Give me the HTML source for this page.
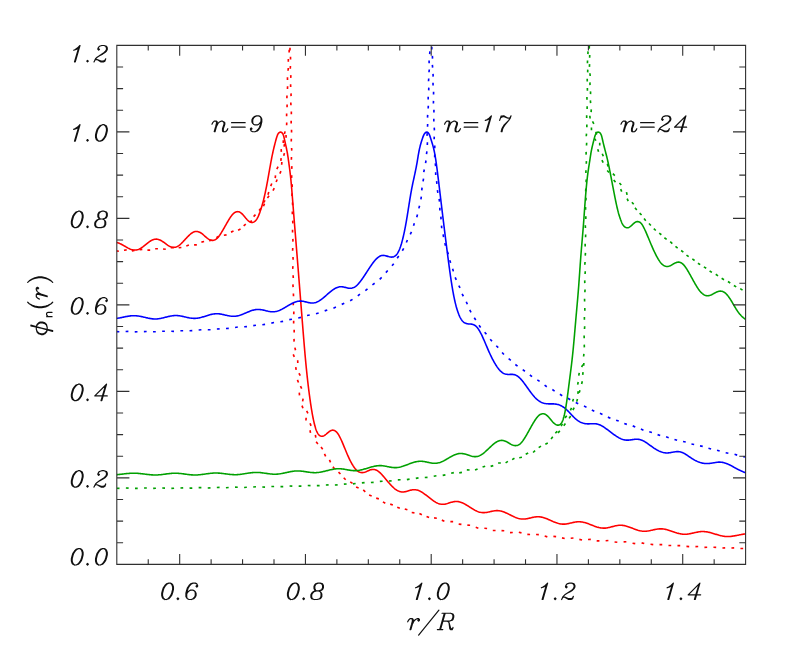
<!DOCTYPE html>
<html><head><meta charset="utf-8"><title>phi_n(r)</title>
<style>html,body{margin:0;padding:0;background:#fff;font-family:"Liberation Sans",sans-serif;}
svg{display:block}</style></head>
<body><svg width="789" height="657" viewBox="0 0 789 657">
<rect width="789" height="657" fill="#fff"/>
<defs><clipPath id="cp"><rect x="116.80" y="45.40" width="628.80" height="519.00"/></clipPath></defs>
<g clip-path="url(#cp)" fill="none" stroke-linejoin="round">
<path d="M95.00 250.50L95.69 250.09L96.38 249.67L97.06 249.25L97.74 248.84L98.42 248.42L99.10 248.00L99.78 247.59L100.47 247.18L101.15 246.77L101.85 246.37L102.54 245.97L103.25 245.59L103.95 245.21L104.67 244.85L105.39 244.50L106.12 244.16L106.86 243.84L107.60 243.54L108.35 243.26L109.11 243.01L109.88 242.79L110.66 242.60L111.44 242.45L112.23 242.34L113.02 242.26L113.81 242.24L114.60 242.26L115.39 242.32L116.18 242.44L116.96 242.59L117.72 242.80L118.48 243.04L119.23 243.31L119.97 243.62L120.70 243.96L121.41 244.31L122.12 244.69L122.83 245.07L123.53 245.47L124.22 245.87L124.92 246.28L125.61 246.69L126.31 247.09L127.01 247.48L127.71 247.87L128.43 248.24L129.15 248.59L129.88 248.92L130.63 249.21L131.38 249.48L132.15 249.70L132.92 249.87L133.70 249.99L134.48 250.05L135.27 250.05L136.05 249.98L136.82 249.85L137.58 249.66L138.33 249.41L139.07 249.11L139.78 248.77L140.48 248.38L141.17 247.97L141.84 247.53L142.50 247.06L143.15 246.59L143.79 246.10L144.42 245.60L145.05 245.10L145.68 244.60L146.31 244.09L146.93 243.59L147.57 243.09L148.21 242.60L148.85 242.12L149.51 241.66L150.18 241.21L150.87 240.79L151.57 240.40L152.28 240.04L153.02 239.74L153.76 239.49L154.52 239.30L155.29 239.18L156.06 239.13L156.84 239.16L157.61 239.26L158.37 239.43L159.12 239.66L159.85 239.96L160.57 240.30L161.28 240.68L161.97 241.10L162.64 241.54L163.31 242.00L163.96 242.47L164.62 242.95L165.27 243.43L165.92 243.91L166.57 244.39L167.24 244.85L167.91 245.30L168.59 245.73L169.29 246.12L170.01 246.48L170.74 246.79L171.49 247.04L172.24 247.23L173.01 247.34L173.78 247.38L174.55 247.33L175.31 247.20L176.05 246.99L176.78 246.72L177.49 246.37L178.18 245.98L178.84 245.53L179.49 245.05L180.11 244.54L180.72 244.01L181.31 243.46L181.89 242.90L182.46 242.32L183.02 241.75L183.57 241.16L184.12 240.57L184.66 239.98L185.20 239.39L185.75 238.80L186.29 238.21L186.84 237.63L187.39 237.04L187.95 236.46L188.52 235.89L189.10 235.33L189.69 234.78L190.30 234.24L190.92 233.73L191.57 233.25L192.24 232.80L192.92 232.41L193.64 232.06L194.36 231.79L195.11 231.59L195.87 231.48L196.63 231.45L197.39 231.52L198.14 231.67L198.87 231.90L199.60 232.20L200.30 232.57L200.98 232.99L201.64 233.45L202.28 233.94L202.91 234.45L203.53 234.98L204.14 235.52L204.74 236.06L205.35 236.60L205.97 237.14L206.59 237.67L207.22 238.17L207.88 238.66L208.55 239.10L209.24 239.50L209.95 239.85L210.68 240.12L211.42 240.30L212.17 240.40L212.91 240.39L213.65 240.29L214.38 240.08L215.07 239.78L215.74 239.40L216.38 238.94L216.99 238.43L217.56 237.87L218.10 237.27L218.62 236.65L219.12 236.00L219.59 235.35L220.05 234.68L220.50 234.01L220.94 233.33L221.36 232.65L221.78 231.96L222.19 231.27L222.60 230.58L223.01 229.89L223.41 229.20L223.80 228.50L224.20 227.81L224.59 227.11L224.99 226.41L225.38 225.72L225.77 225.02L226.16 224.32L226.56 223.62L226.96 222.93L227.36 222.24L227.76 221.54L228.17 220.85L228.58 220.16L229.00 219.48L229.42 218.79L229.86 218.11L230.30 217.44L230.76 216.77L231.23 216.11L231.72 215.46L232.24 214.83L232.78 214.22L233.35 213.65L233.95 213.12L234.58 212.65L235.24 212.26L235.93 211.96L236.64 211.75L237.36 211.66L238.09 211.69L238.81 211.83L239.51 212.07L240.19 212.41L240.85 212.83L241.48 213.32L242.08 213.86L242.65 214.43L243.21 215.03L243.75 215.65L244.28 216.28L244.80 216.91L245.32 217.55L245.84 218.18L246.38 218.80L246.93 219.42L247.49 220.01L248.09 220.57L248.70 221.08L249.35 221.54L250.02 221.91L250.71 222.19L251.41 222.37L252.12 222.42L252.83 222.35L253.51 222.16L254.17 221.84L254.79 221.42L255.37 220.90L255.90 220.31L256.39 219.67L256.84 218.99L257.25 218.28L257.63 217.56L258.00 216.83L258.34 216.10L258.66 215.36L258.97 214.62L259.27 213.87L259.56 213.12L259.85 212.37L260.12 211.61L260.38 210.86L260.64 210.10L260.89 209.34L261.14 208.58L261.38 207.82L261.61 207.05L261.84 206.28L262.06 205.52L262.28 204.75L262.50 203.98L262.71 203.20L262.92 202.43L263.12 201.66L263.32 200.88L263.52 200.11L263.71 199.33L263.90 198.55L264.08 197.78L264.27 197.00L264.45 196.22L264.63 195.44L264.80 194.66L264.98 193.88L265.15 193.10L265.32 192.31L265.48 191.53L265.65 190.75L265.81 189.96L265.97 189.18L266.13 188.40L266.28 187.61L266.44 186.83L266.59 186.04L266.74 185.26L266.89 184.47L267.04 183.68L267.18 182.90L267.33 182.11L267.47 181.32L267.62 180.54L267.76 179.75L267.90 178.96L268.04 178.17L268.18 177.39L268.32 176.60L268.46 175.81L268.60 175.02L268.74 174.24L268.88 173.45L269.02 172.66L269.16 171.87L269.30 171.09L269.44 170.30L269.58 169.51L269.72 168.72L269.86 167.93L270.00 167.15L270.14 166.36L270.28 165.57L270.42 164.78L270.57 164.00L270.71 163.21L270.86 162.42L271.00 161.64L271.15 160.85L271.30 160.06L271.45 159.28L271.60 158.49L271.75 157.71L271.91 156.92L272.06 156.14L272.22 155.35L272.39 154.57L272.55 153.79L272.72 153.01L272.89 152.22L273.06 151.44L273.24 150.66L273.42 149.88L273.60 149.10L273.78 148.33L273.97 147.55L274.16 146.77L274.35 145.99L274.55 145.22L274.74 144.44L274.94 143.67L275.14 142.89L275.35 142.12L275.55 141.35L275.76 140.57L275.97 139.80L276.18 139.03L276.40 138.25L276.63 137.48L276.88 136.71L277.14 135.94L277.44 135.17L277.78 134.42L278.18 133.71L278.66 133.08L279.21 132.57L279.83 132.23L280.49 132.11L281.14 132.22L281.75 132.55L282.29 133.06L282.75 133.70L283.12 134.42L283.41 135.19L283.66 135.97L283.87 136.76L284.06 137.55L284.24 138.34L284.41 139.12L284.58 139.91L284.75 140.69L284.92 141.47L285.10 142.25L285.27 143.03L285.44 143.82L285.62 144.60L285.80 145.38L285.97 146.16L286.14 146.94L286.31 147.72L286.48 148.50L286.64 149.29L286.80 150.07L286.95 150.85L287.10 151.64L287.25 152.43L287.38 153.22L287.52 154.00L287.65 154.79L287.77 155.58L287.89 156.37L288.01 157.17L288.13 157.96L288.24 158.75L288.35 159.54L288.46 160.33L288.57 161.13L288.68 161.92L288.79 162.71L288.90 163.50L289.01 164.30L289.12 165.09L289.23 165.88L289.33 166.67L289.44 167.47L289.55 168.26L289.65 169.05L289.76 169.85L289.86 170.64L289.96 171.43L290.05 172.23L290.15 173.02L290.24 173.82L290.34 174.61L290.43 175.41L290.51 176.20L290.60 177.00L290.69 177.79L290.77 178.59L290.85 179.38L290.93 180.18L291.00 180.98L291.08 181.77L291.15 182.57L291.23 183.37L291.30 184.16L291.37 184.96L291.44 185.76L291.51 186.55L291.58 187.35L291.65 188.15L291.72 188.94L291.78 189.74L291.85 190.54L291.91 191.34L291.98 192.13L292.04 192.93L292.11 193.73L292.17 194.53L292.24 195.32L292.30 196.12L292.36 196.92L292.43 197.72L292.49 198.51L292.55 199.31L292.62 200.11L292.68 200.91L292.74 201.70L292.80 202.50L292.87 203.30L292.93 204.10L292.99 204.89L293.05 205.69L293.11 206.49L293.18 207.29L293.24 208.08L293.30 208.88L293.37 209.68L293.43 210.48L293.49 211.27L293.55 212.07L293.62 212.87L293.68 213.67L293.74 214.46L293.81 215.26L293.87 216.06L293.94 216.86L294.00 217.65L294.06 218.45L294.13 219.25L294.19 220.05L294.25 220.84L294.32 221.64L294.38 222.44L294.45 223.24L294.51 224.03L294.57 224.83L294.64 225.63L294.70 226.43L294.77 227.22L294.83 228.02L294.90 228.82L294.96 229.62L295.03 230.41L295.09 231.21L295.15 232.01L295.22 232.80L295.28 233.60L295.35 234.40L295.41 235.20L295.48 235.99L295.54 236.79L295.61 237.59L295.67 238.39L295.74 239.18L295.80 239.98L295.87 240.78L295.93 241.58L296.00 242.37L296.06 243.17L296.13 243.97L296.19 244.77L296.26 245.56L296.32 246.36L296.39 247.16L296.45 247.95L296.52 248.75L296.58 249.55L296.65 250.35L296.71 251.14L296.77 251.94L296.84 252.74L296.90 253.54L296.97 254.33L297.03 255.13L297.10 255.93L297.16 256.73L297.23 257.52L297.29 258.32L297.36 259.12L297.42 259.92L297.48 260.71L297.55 261.51L297.61 262.31L297.68 263.11L297.74 263.90L297.81 264.70L297.87 265.50L297.93 266.29L298.00 267.09L298.06 267.89L298.13 268.69L298.19 269.48L298.25 270.28L298.32 271.08L298.38 271.88L298.45 272.67L298.51 273.47L298.57 274.27L298.64 275.07L298.70 275.86L298.76 276.66L298.83 277.46L298.89 278.26L298.95 279.05L299.02 279.85L299.08 280.65L299.14 281.45L299.21 282.24L299.27 283.04L299.33 283.84L299.40 284.64L299.46 285.43L299.52 286.23L299.59 287.03L299.65 287.83L299.71 288.62L299.78 289.42L299.84 290.22L299.90 291.02L299.97 291.81L300.03 292.61L300.09 293.41L300.16 294.21L300.22 295.00L300.28 295.80L300.35 296.60L300.41 297.40L300.47 298.19L300.54 298.99L300.60 299.79L300.66 300.59L300.73 301.38L300.79 302.18L300.85 302.98L300.91 303.78L300.98 304.57L301.04 305.37L301.10 306.17L301.17 306.97L301.23 307.76L301.29 308.56L301.36 309.36L301.42 310.16L301.48 310.95L301.55 311.75L301.61 312.55L301.67 313.35L301.74 314.14L301.80 314.94L301.86 315.74L301.93 316.54L301.99 317.33L302.05 318.13L302.11 318.93L302.18 319.73L302.24 320.52L302.30 321.32L302.37 322.12L302.43 322.92L302.50 323.71L302.56 324.51L302.62 325.31L302.69 326.11L302.75 326.90L302.81 327.70L302.88 328.50L302.94 329.30L303.01 330.09L303.07 330.89L303.13 331.69L303.20 332.49L303.26 333.28L303.33 334.08L303.39 334.88L303.46 335.68L303.52 336.47L303.59 337.27L303.65 338.07L303.72 338.86L303.78 339.66L303.85 340.46L303.91 341.26L303.98 342.05L304.05 342.85L304.11 343.65L304.18 344.45L304.25 345.24L304.31 346.04L304.38 346.84L304.45 347.63L304.52 348.43L304.59 349.23L304.65 350.03L304.72 350.82L304.79 351.62L304.86 352.42L304.93 353.21L305.00 354.01L305.07 354.81L305.14 355.60L305.22 356.40L305.29 357.20L305.36 357.99L305.43 358.79L305.51 359.59L305.58 360.38L305.65 361.18L305.73 361.98L305.80 362.77L305.88 363.57L305.96 364.37L306.03 365.16L306.11 365.96L306.19 366.76L306.27 367.55L306.35 368.35L306.43 369.14L306.51 369.94L306.59 370.74L306.67 371.53L306.75 372.33L306.84 373.12L306.92 373.92L307.00 374.71L307.09 375.51L307.17 376.30L307.26 377.10L307.35 377.89L307.44 378.69L307.52 379.49L307.61 380.28L307.70 381.08L307.79 381.87L307.89 382.66L307.98 383.46L308.07 384.25L308.17 385.05L308.26 385.84L308.36 386.64L308.45 387.43L308.55 388.23L308.65 389.02L308.75 389.81L308.85 390.61L308.95 391.40L309.05 392.19L309.15 392.99L309.26 393.78L309.36 394.57L309.47 395.37L309.57 396.16L309.68 396.95L309.79 397.74L309.90 398.54L310.01 399.33L310.12 400.12L310.23 400.91L310.35 401.71L310.46 402.50L310.58 403.29L310.70 404.08L310.82 404.87L310.94 405.66L311.06 406.45L311.18 407.24L311.31 408.03L311.43 408.82L311.56 409.61L311.69 410.40L311.83 411.19L311.96 411.98L312.10 412.77L312.24 413.56L312.38 414.34L312.52 415.13L312.67 415.92L312.82 416.70L312.97 417.49L313.13 418.27L313.29 419.06L313.46 419.84L313.62 420.62L313.80 421.40L313.98 422.18L314.16 422.96L314.35 423.74L314.55 424.52L314.75 425.29L314.96 426.07L315.18 426.84L315.40 427.62L315.64 428.39L315.90 429.16L316.16 429.93L316.45 430.69L316.76 431.45L317.10 432.20L317.47 432.92L317.89 433.61L318.35 434.26L318.86 434.84L319.41 435.35L320.02 435.75L320.66 436.04L321.34 436.21L322.03 436.24L322.74 436.15L323.44 435.95L324.14 435.63L324.81 435.23L325.47 434.76L326.11 434.24L326.74 433.69L327.36 433.13L327.98 432.57L328.61 432.03L329.25 431.52L329.92 431.07L330.60 430.69L331.29 430.41L332.00 430.22L332.71 430.16L333.42 430.21L334.12 430.39L334.79 430.68L335.43 431.07L336.03 431.55L336.60 432.10L337.12 432.70L337.62 433.34L338.08 434.01L338.52 434.70L338.94 435.41L339.33 436.12L339.71 436.83L340.08 437.55L340.44 438.27L340.79 439.00L341.13 439.73L341.46 440.46L341.78 441.19L342.11 441.92L342.42 442.66L342.74 443.40L343.05 444.13L343.35 444.87L343.66 445.61L343.96 446.35L344.27 447.09L344.57 447.83L344.87 448.57L345.18 449.31L345.48 450.05L345.78 450.79L346.09 451.53L346.40 452.27L346.71 453.01L347.02 453.74L347.34 454.48L347.66 455.21L347.98 455.94L348.31 456.67L348.64 457.40L348.98 458.13L349.32 458.85L349.67 459.57L350.03 460.29L350.39 461.00L350.75 461.71L351.13 462.42L351.52 463.12L351.91 463.82L352.32 464.52L352.73 465.20L353.16 465.88L353.61 466.55L354.07 467.22L354.55 467.86L355.04 468.50L355.57 469.11L356.11 469.71L356.69 470.26L357.29 470.78L357.93 471.26L358.59 471.67L359.29 472.02L360.01 472.29L360.75 472.48L361.50 472.59L362.27 472.61L363.04 472.56L363.81 472.42L364.58 472.23L365.34 471.98L366.10 471.69L366.85 471.37L367.59 471.04L368.34 470.71L369.09 470.39L369.84 470.10L370.60 469.85L371.37 469.65L372.14 469.51L372.91 469.45L373.68 469.46L374.44 469.55L375.19 469.72L375.93 469.97L376.64 470.28L377.33 470.66L378.00 471.09L378.64 471.56L379.27 472.07L379.87 472.61L380.46 473.16L381.03 473.73L381.58 474.32L382.13 474.91L382.66 475.51L383.19 476.11L383.71 476.72L384.23 477.34L384.75 477.95L385.26 478.56L385.77 479.18L386.28 479.80L386.79 480.41L387.31 481.02L387.83 481.64L388.35 482.24L388.87 482.85L389.40 483.45L389.94 484.04L390.48 484.63L391.03 485.22L391.58 485.80L392.15 486.37L392.72 486.92L393.31 487.47L393.91 488.01L394.52 488.53L395.15 489.03L395.80 489.51L396.46 489.96L397.14 490.38L397.84 490.76L398.55 491.09L399.29 491.38L400.04 491.62L400.80 491.79L401.58 491.91L402.36 491.96L403.15 491.96L403.94 491.90L404.72 491.79L405.51 491.64L406.29 491.45L407.07 491.24L407.84 491.02L408.62 490.78L409.39 490.55L410.17 490.33L410.95 490.13L411.73 489.96L412.51 489.83L413.30 489.74L414.09 489.70L414.87 489.72L415.66 489.79L416.44 489.91L417.20 490.09L417.96 490.31L418.71 490.58L419.44 490.89L420.16 491.24L420.87 491.62L421.57 492.02L422.25 492.44L422.92 492.88L423.58 493.33L424.24 493.80L424.88 494.27L425.52 494.75L426.16 495.24L426.79 495.73L427.42 496.23L428.05 496.72L428.68 497.22L429.31 497.72L429.94 498.21L430.57 498.70L431.21 499.19L431.85 499.67L432.50 500.15L433.15 500.61L433.81 501.06L434.48 501.50L435.17 501.92L435.86 502.33L436.57 502.71L437.29 503.05L438.02 503.37L438.76 503.65L439.52 503.89L440.29 504.07L441.06 504.21L441.85 504.30L442.64 504.33L443.42 504.31L444.21 504.24L445.00 504.13L445.78 503.98L446.56 503.79L447.34 503.58L448.11 503.35L448.87 503.10L449.64 502.85L450.41 502.61L451.18 502.37L451.95 502.14L452.73 501.94L453.51 501.77L454.29 501.64L455.08 501.54L455.87 501.49L456.66 501.49L457.45 501.54L458.23 501.63L459.01 501.77L459.78 501.96L460.55 502.18L461.30 502.44L462.04 502.74L462.78 503.06L463.50 503.40L464.21 503.77L464.92 504.15L465.62 504.54L466.31 504.95L467.00 505.36L467.68 505.78L468.36 506.20L469.04 506.63L469.71 507.06L470.39 507.49L471.07 507.92L471.75 508.35L472.43 508.76L473.12 509.18L473.81 509.58L474.51 509.97L475.22 510.35L475.93 510.71L476.65 511.06L477.39 511.37L478.13 511.66L478.89 511.92L479.65 512.15L480.42 512.33L481.20 512.48L481.99 512.58L482.78 512.64L483.57 512.66L484.37 512.64L485.16 512.58L485.95 512.49L486.75 512.37L487.53 512.23L488.32 512.08L489.11 511.91L489.89 511.73L490.67 511.55L491.46 511.38L492.24 511.21L493.03 511.06L493.82 510.92L494.61 510.81L495.40 510.72L496.20 510.66L496.99 510.64L497.79 510.66L498.58 510.72L499.37 510.81L500.15 510.94L500.93 511.10L501.70 511.30L502.47 511.52L503.23 511.78L503.98 512.05L504.73 512.34L505.46 512.65L506.20 512.98L506.93 513.31L507.65 513.66L508.37 514.01L509.09 514.36L509.81 514.72L510.52 515.07L511.24 515.43L511.96 515.78L512.68 516.13L513.41 516.47L514.14 516.81L514.87 517.13L515.61 517.43L516.36 517.72L517.11 517.99L517.87 518.24L518.64 518.46L519.41 518.65L520.19 518.81L520.98 518.93L521.77 519.01L522.56 519.06L523.36 519.07L524.15 519.04L524.95 518.98L525.74 518.89L526.53 518.77L527.32 518.63L528.10 518.47L528.89 518.30L529.67 518.12L530.45 517.93L531.23 517.74L532.01 517.56L532.79 517.38L533.58 517.22L534.37 517.08L535.16 516.95L535.95 516.86L536.74 516.79L537.54 516.75L538.33 516.75L539.13 516.79L539.92 516.86L540.71 516.97L541.49 517.11L542.27 517.28L543.04 517.48L543.81 517.70L544.57 517.95L545.33 518.22L546.08 518.50L546.82 518.79L547.56 519.10L548.30 519.41L549.03 519.73L549.77 520.06L550.50 520.38L551.23 520.71L551.96 521.04L552.69 521.36L553.43 521.68L554.17 521.98L554.91 522.28L555.66 522.57L556.41 522.84L557.17 523.10L557.94 523.33L558.71 523.54L559.48 523.73L560.27 523.88L561.05 524.00L561.84 524.09L562.64 524.14L563.43 524.16L564.23 524.14L565.02 524.09L565.82 524.01L566.61 523.90L567.40 523.77L568.18 523.62L568.97 523.46L569.75 523.28L570.53 523.09L571.31 522.91L572.09 522.72L572.87 522.54L573.66 522.37L574.44 522.21L575.23 522.07L576.02 521.95L576.81 521.86L577.61 521.79L578.40 521.76L579.20 521.75L579.99 521.78L580.78 521.85L581.58 521.94L582.36 522.07L583.15 522.22L583.93 522.40L584.70 522.60L585.47 522.82L586.23 523.06L586.99 523.31L587.75 523.57L588.50 523.85L589.25 524.13L590.00 524.42L590.75 524.71L591.49 525.00L592.24 525.29L592.99 525.58L593.73 525.87L594.48 526.15L595.24 526.42L596.00 526.68L596.76 526.93L597.52 527.16L598.29 527.37L599.07 527.57L599.85 527.74L600.64 527.88L601.42 528.00L602.22 528.08L603.01 528.13L603.81 528.15L604.60 528.14L605.40 528.09L606.19 528.01L606.98 527.90L607.77 527.76L608.55 527.60L609.33 527.43L610.11 527.24L610.89 527.04L611.66 526.83L612.44 526.62L613.21 526.41L613.99 526.21L614.77 526.02L615.55 525.84L616.33 525.67L617.12 525.53L617.91 525.42L618.70 525.33L619.49 525.28L620.29 525.25L621.08 525.26L621.88 525.31L622.67 525.39L623.46 525.50L624.24 525.64L625.03 525.80L625.80 526.00L626.57 526.21L627.34 526.44L628.10 526.69L628.86 526.94L629.61 527.21L630.37 527.49L631.12 527.77L631.86 528.06L632.61 528.35L633.36 528.63L634.11 528.92L634.86 529.20L635.61 529.47L636.37 529.73L637.13 529.98L637.90 530.22L638.67 530.44L639.44 530.64L640.22 530.81L641.00 530.96L641.79 531.09L642.58 531.18L643.38 531.24L644.17 531.27L644.97 531.26L645.76 531.23L646.56 531.16L647.35 531.07L648.14 530.96L648.93 530.83L649.72 530.68L650.50 530.52L651.29 530.35L652.07 530.17L652.85 529.99L653.63 529.82L654.42 529.64L655.20 529.48L655.99 529.33L656.78 529.19L657.57 529.07L658.36 528.97L659.15 528.90L659.95 528.86L660.75 528.84L661.54 528.86L662.34 528.91L663.13 528.98L663.92 529.08L664.71 529.21L665.49 529.37L666.27 529.55L667.05 529.74L667.82 529.95L668.59 530.18L669.35 530.42L670.12 530.66L670.88 530.91L671.63 531.17L672.39 531.43L673.15 531.70L673.91 531.96L674.67 532.21L675.43 532.47L676.19 532.71L676.95 532.95L677.72 533.17L678.49 533.38L679.27 533.58L680.05 533.75L680.83 533.90L681.62 534.03L682.41 534.13L683.21 534.21L684.00 534.25L684.80 534.27L685.60 534.25L686.39 534.21L687.19 534.14L687.98 534.05L688.77 533.94L689.56 533.80L690.35 533.65L691.13 533.49L691.91 533.32L692.70 533.14L693.48 532.96L694.26 532.78L695.04 532.60L695.82 532.42L696.60 532.26L697.39 532.10L698.18 531.96L698.97 531.83L699.76 531.72L700.55 531.64L701.35 531.58L702.14 531.54L702.94 531.54L703.74 531.56L704.53 531.61L705.33 531.68L706.12 531.78L706.91 531.90L707.70 532.04L708.48 532.20L709.26 532.38L710.04 532.57L710.81 532.78L711.58 532.99L712.35 533.21L713.12 533.44L713.89 533.67L714.65 533.91L715.42 534.15L716.18 534.38L716.95 534.61L717.72 534.84L718.49 535.06L719.26 535.28L720.03 535.48L720.81 535.67L721.59 535.85L722.37 536.01L723.16 536.15L723.95 536.27L724.74 536.37L725.53 536.45L726.33 536.50L727.13 536.53L727.93 536.54L728.72 536.52L729.52 536.48L730.32 536.43L731.11 536.35L731.91 536.26L732.70 536.15L733.49 536.03L734.28 535.90L735.07 535.76L735.86 535.61L736.64 535.46L737.43 535.31L738.22 535.15L739.00 534.99L739.79 534.84L740.57 534.69L741.36 534.54L742.15 534.40L742.94 534.27L743.73 534.15L744.52 534.04L745.31 533.94L746.11 533.86L746.91 533.79L747.70 533.74L748.50 533.71L749.30 533.69L750.10 533.69L750.90 533.71L751.70 533.74L752.50 533.80L753.29 533.87L754.09 533.96L754.88 534.07L755.67 534.19L756.46 534.33L757.24 534.49L758.03 534.66L758.80 534.85L759.58 535.05L760.35 535.28L761.11 535.52L761.87 535.77L762.62 536.04L763.36 536.33L764.10 536.63L764.83 536.94L765.56 537.27L766.28 537.62L767.00 537.98L767.71 538.35" stroke="#ff0000" stroke-width="1.58"/>
<path d="M116.13 250.93L118.87 251.21M123.95 250.23L126.68 249.90M131.82 251.01L134.49 250.38M139.58 249.69L142.31 249.39M147.42 250.15L150.17 250.06M155.18 248.70L157.93 248.78M163.05 249.00L165.79 249.30M170.77 247.66L173.52 247.63M178.66 247.80L181.39 247.50M186.30 245.95L188.91 245.08M194.09 244.87L196.84 244.82M201.40 242.11L204.10 241.56M209.15 240.63L211.88 240.28M216.43 237.72L218.74 236.23M223.86 235.30L226.57 234.84M231.00 232.12L233.53 231.04M238.08 230.16L240.55 228.94M243.66 225.97L245.77 224.20M249.59 222.28L251.88 220.76M253.61 216.68L255.49 214.67M259.06 210.44L260.92 208.42M263.56 202.63L265.12 200.37M267.93 194.72L268.79 192.10M270.72 186.08L271.77 183.54M275.24 178.12L275.51 175.39M276.82 169.15L278.09 166.71M280.82 160.95L281.17 158.22M281.39 151.85L281.10 149.12M283.27 143.01L283.31 140.26M284.39 134.05L285.11 131.40M286.64 125.27L286.72 122.53M286.62 116.23L286.64 113.48M287.05 107.19L287.11 104.45M286.89 98.15L286.97 95.40M287.47 89.03L287.59 86.28M287.51 79.90L287.45 77.15M288.03 70.78L288.28 68.04M288.32 61.65L288.33 58.90M289.13 52.55L289.20 49.81M289.13 43.41L289.35 40.67M263.45 206.21L264.52 203.67M267.43 197.93L269.08 195.73M273.01 190.62L274.25 188.16M276.13 182.01L277.16 179.46M279.85 173.63L280.97 171.12M281.69 164.68L281.83 161.94M283.71 155.76L284.41 153.11M284.07 146.63L284.53 143.91M286.11 137.66L286.01 134.91" stroke="#ff0000" stroke-width="1.65" stroke-linecap="butt"/>
<path d="M290.00 47.73L289.98 50.48M290.49 56.85L290.55 59.60M290.42 65.98L290.28 68.73M290.72 75.11L290.89 77.85M290.60 84.24L290.66 86.99M291.01 93.36L291.07 96.11M290.80 102.46L290.94 105.21M291.34 111.55L291.34 114.30M291.15 120.65L291.15 123.40M291.51 129.74L291.57 132.49M291.33 138.83L291.26 141.58M291.59 147.93L291.76 150.67M291.47 157.02L291.37 159.77M291.75 166.11L291.90 168.86M291.72 175.21L291.57 177.96M292.18 184.29L292.17 187.04M292.08 193.39L291.99 196.14M292.45 202.48L292.68 205.22M292.36 211.57L292.37 214.32M292.71 220.67L292.86 223.41M292.53 229.76L292.56 232.51M292.87 238.85L292.98 241.60M292.74 247.95L292.60 250.69M293.00 257.04L293.12 259.79M292.79 266.13L292.83 268.88M293.12 275.23L293.28 277.97M292.89 284.33L293.11 287.07M293.40 293.41L293.51 296.16M293.31 302.51L293.25 305.26M293.81 311.59L293.78 314.34M293.67 320.69L293.65 323.44M294.16 329.78L294.18 332.53M294.01 338.88L294.11 341.63M294.88 347.64L295.53 350.31M293.21 354.43L294.31 356.95M297.71 360.21L297.78 362.96M295.72 367.06L296.18 369.77M298.91 373.25L300.30 375.62M297.41 379.92L298.48 382.46M300.47 386.11L301.71 388.57M299.28 392.69L299.50 395.43M303.12 398.68L302.59 401.38M301.99 405.65L302.95 408.22M306.65 410.90L307.92 413.34M306.14 417.74L305.94 420.49M310.08 423.26L311.02 425.85M309.99 430.26L310.51 432.96M315.40 434.83L315.78 437.55M316.14 441.80L317.89 443.93M321.01 447.08L322.71 449.24M324.47 453.94L325.67 456.41M329.46 459.85L330.54 462.38M332.96 466.75L334.61 468.95M338.51 472.08L340.47 474.01M343.73 477.75L345.66 479.72M350.23 481.83L352.53 483.35M356.10 486.90L358.61 488.02M363.25 489.95L365.30 491.78M369.10 495.08L371.66 496.09M376.22 498.10L378.86 498.85M382.91 501.85L385.30 503.21M390.24 504.12L392.84 505.02M397.26 507.31L399.81 508.34M404.78 509.00L407.40 509.82M411.72 512.52L414.45 512.86M419.42 513.55L421.86 514.83M426.55 516.49L429.08 517.57M434.10 517.89L436.83 518.24M441.83 520.12L444.38 521.15M450.38 521.57L453.13 521.62M458.69 524.07L461.43 524.39M467.35 525.07L470.09 525.25M475.74 527.31L478.34 528.20M484.36 528.20L487.10 528.47M492.80 530.54L495.55 530.48M501.51 530.58L504.25 530.79M510.02 532.57L512.77 532.46M518.82 532.21L521.49 532.86M527.33 534.35L530.08 534.50M536.08 534.55L538.83 534.57M544.70 536.00L547.32 536.84M553.40 536.31L556.13 536.58M562.01 537.85L564.68 538.51M570.72 538.23L573.46 537.99M579.34 539.40L582.03 540.01M588.05 539.47L590.80 539.43M596.68 540.83L599.43 540.93M605.65 540.78L608.39 540.48M614.57 542.02L617.31 542.26M623.61 541.92L626.36 541.79M632.54 543.19L635.25 543.68M641.61 542.83L644.26 543.56M650.51 544.24L653.24 544.58M659.50 544.68L662.25 544.64M668.47 545.47L671.22 545.54M677.47 545.68L680.22 545.69M686.45 546.44L689.19 546.58M695.45 546.61L698.20 546.54M704.43 547.33L707.18 547.25M713.44 547.28L716.19 547.37M722.42 548.03L725.17 547.93M731.43 548.00L734.18 547.88M740.42 548.46L743.17 548.49" stroke="#ff0000" stroke-width="1.65" stroke-linecap="butt"/>
<path d="M96.00 316.00L96.73 316.32L97.48 316.63L98.23 316.92L98.98 317.18L99.74 317.43L100.50 317.66L101.27 317.87L102.04 318.06L102.83 318.23L103.61 318.38L104.40 318.52L105.19 318.63L105.99 318.73L106.78 318.80L107.58 318.86L108.38 318.90L109.18 318.93L109.98 318.94L110.78 318.93L111.58 318.91L112.38 318.87L113.17 318.82L113.97 318.75L114.77 318.66L115.56 318.57L116.35 318.46L117.14 318.34L117.93 318.21L118.72 318.07L119.51 317.92L120.29 317.77L121.08 317.61L121.86 317.45L122.65 317.28L123.43 317.12L124.21 316.96L125.00 316.80L125.78 316.64L126.57 316.49L127.36 316.35L128.15 316.22L128.94 316.10L129.73 315.99L130.52 315.89L131.32 315.82L132.12 315.76L132.91 315.72L133.71 315.70L134.51 315.70L135.31 315.72L136.11 315.77L136.90 315.84L137.69 315.93L138.49 316.04L139.28 316.16L140.06 316.30L140.85 316.46L141.63 316.62L142.41 316.79L143.19 316.97L143.97 317.16L144.75 317.34L145.53 317.53L146.31 317.71L147.09 317.89L147.87 318.07L148.66 318.23L149.44 318.38L150.23 318.53L151.02 318.65L151.81 318.76L152.61 318.85L153.40 318.91L154.20 318.95L155.00 318.97L155.79 318.96L156.59 318.93L157.39 318.87L158.18 318.78L158.97 318.68L159.76 318.55L160.55 318.41L161.33 318.25L162.12 318.08L162.90 317.90L163.67 317.71L164.45 317.52L165.23 317.32L166.00 317.13L166.78 316.93L167.56 316.74L168.34 316.55L169.12 316.37L169.90 316.20L170.69 316.05L171.47 315.91L172.26 315.79L173.06 315.69L173.85 315.62L174.65 315.57L175.44 315.54L176.24 315.54L177.04 315.57L177.83 315.62L178.63 315.70L179.42 315.80L180.21 315.92L181.00 316.06L181.79 316.21L182.57 316.37L183.35 316.54L184.13 316.72L184.91 316.90L185.69 317.08L186.47 317.27L187.26 317.44L188.04 317.61L188.82 317.77L189.61 317.92L190.40 318.05L191.19 318.16L191.99 318.25L192.78 318.32L193.58 318.36L194.37 318.37L195.17 318.36L195.97 318.32L196.76 318.25L197.55 318.15L198.34 318.02L199.13 317.87L199.91 317.70L200.68 317.52L201.46 317.31L202.23 317.10L203.00 316.87L203.76 316.64L204.53 316.40L205.29 316.15L206.06 315.91L206.82 315.67L207.58 315.43L208.35 315.19L209.12 314.97L209.89 314.76L210.67 314.55L211.44 314.37L212.23 314.21L213.01 314.06L213.80 313.94L214.59 313.85L215.39 313.79L216.18 313.75L216.98 313.75L217.78 313.77L218.57 313.82L219.36 313.90L220.16 314.01L220.95 314.13L221.73 314.28L222.52 314.44L223.30 314.61L224.08 314.78L224.87 314.96L225.65 315.15L226.43 315.33L227.21 315.50L227.99 315.67L228.78 315.82L229.57 315.96L230.36 316.08L231.15 316.17L231.95 316.24L232.74 316.28L233.54 316.30L234.34 316.27L235.13 316.22L235.92 316.13L236.71 316.01L237.49 315.86L238.27 315.68L239.04 315.47L239.81 315.24L240.57 314.99L241.32 314.73L242.07 314.45L242.82 314.16L243.56 313.86L244.30 313.55L245.04 313.24L245.78 312.93L246.52 312.62L247.26 312.30L247.99 311.99L248.74 311.69L249.48 311.40L250.23 311.11L250.98 310.84L251.74 310.59L252.51 310.35L253.28 310.13L254.05 309.94L254.83 309.78L255.62 309.65L256.41 309.55L257.20 309.49L258.00 309.46L258.79 309.47L259.58 309.51L260.38 309.59L261.17 309.69L261.96 309.82L262.74 309.97L263.53 310.14L264.31 310.32L265.09 310.51L265.87 310.71L266.65 310.90L267.43 311.08L268.21 311.26L269.00 311.41L269.79 311.55L270.58 311.66L271.37 311.74L272.17 311.79L272.96 311.80L273.75 311.77L274.55 311.70L275.33 311.59L276.11 311.44L276.88 311.25L277.65 311.02L278.40 310.77L279.15 310.48L279.89 310.17L280.62 309.84L281.34 309.49L282.05 309.13L282.76 308.75L283.46 308.36L284.16 307.97L284.85 307.57L285.54 307.16L286.23 306.75L286.92 306.34L287.61 305.93L288.30 305.52L288.99 305.12L289.68 304.72L290.38 304.32L291.08 303.94L291.79 303.57L292.51 303.21L293.24 302.87L293.97 302.54L294.71 302.24L295.46 301.97L296.22 301.72L296.99 301.52L297.76 301.34L298.55 301.21L299.33 301.13L300.12 301.09L300.91 301.09L301.71 301.14L302.50 301.22L303.29 301.34L304.07 301.50L304.86 301.67L305.64 301.86L306.42 302.06L307.20 302.26L307.98 302.45L308.77 302.62L309.55 302.77L310.34 302.89L311.14 302.98L311.93 303.01L312.72 303.00L313.50 302.94L314.28 302.82L315.05 302.65L315.81 302.43L316.55 302.16L317.28 301.85L318.00 301.50L318.70 301.12L319.39 300.71L320.06 300.27L320.72 299.81L321.37 299.34L322.01 298.86L322.64 298.36L323.27 297.86L323.88 297.35L324.50 296.83L325.10 296.31L325.71 295.79L326.32 295.26L326.92 294.73L327.52 294.21L328.13 293.68L328.74 293.16L329.35 292.64L329.96 292.13L330.58 291.62L331.21 291.12L331.84 290.63L332.49 290.15L333.14 289.68L333.81 289.23L334.49 288.80L335.18 288.40L335.89 288.03L336.61 287.70L337.35 287.40L338.10 287.16L338.86 286.97L339.63 286.83L340.41 286.76L341.20 286.74L341.98 286.78L342.77 286.87L343.56 287.01L344.34 287.18L345.13 287.37L345.91 287.58L346.70 287.78L347.48 287.96L348.27 288.12L349.06 288.23L349.84 288.29L350.62 288.29L351.40 288.22L352.16 288.07L352.90 287.86L353.62 287.57L354.32 287.23L355.00 286.82L355.65 286.37L356.27 285.87L356.88 285.34L357.45 284.78L358.01 284.20L358.56 283.61L359.08 283.00L359.60 282.38L360.10 281.75L360.59 281.11L361.07 280.47L361.55 279.83L362.01 279.18L362.47 278.52L362.93 277.86L363.38 277.20L363.83 276.54L364.28 275.87L364.72 275.21L365.16 274.54L365.59 273.87L366.03 273.20L366.47 272.53L366.90 271.85L367.34 271.18L367.77 270.51L368.21 269.84L368.64 269.17L369.08 268.50L369.52 267.83L369.97 267.17L370.42 266.50L370.87 265.84L371.32 265.18L371.78 264.53L372.25 263.88L372.72 263.23L373.20 262.59L373.69 261.95L374.19 261.32L374.70 260.70L375.23 260.09L375.77 259.49L376.32 258.91L376.90 258.34L377.50 257.81L378.12 257.30L378.77 256.84L379.44 256.43L380.14 256.07L380.86 255.79L381.59 255.58L382.35 255.45L383.12 255.40L383.89 255.43L384.67 255.53L385.45 255.69L386.23 255.89L387.01 256.13L387.79 256.37L388.57 256.61L389.35 256.82L390.13 256.98L390.91 257.08L391.68 257.11L392.44 257.05L393.17 256.89L393.88 256.65L394.56 256.31L395.20 255.89L395.80 255.40L396.35 254.84L396.86 254.24L397.33 253.59L397.77 252.91L398.17 252.21L398.55 251.49L398.89 250.76L399.22 250.03L399.53 249.28L399.83 248.53L400.11 247.78L400.38 247.02L400.63 246.26L400.88 245.50L401.12 244.73L401.36 243.97L401.58 243.20L401.80 242.43L402.01 241.66L402.22 240.88L402.43 240.11L402.62 239.34L402.82 238.56L403.01 237.78L403.19 237.00L403.38 236.22L403.55 235.45L403.73 234.66L403.90 233.88L404.07 233.10L404.24 232.32L404.40 231.54L404.56 230.75L404.72 229.97L404.88 229.18L405.03 228.40L405.18 227.61L405.33 226.83L405.48 226.04L405.63 225.25L405.77 224.47L405.91 223.68L406.05 222.89L406.19 222.10L406.33 221.32L406.46 220.53L406.60 219.74L406.73 218.95L406.86 218.16L406.99 217.37L407.12 216.58L407.25 215.79L407.38 215.00L407.51 214.21L407.63 213.42L407.76 212.63L407.89 211.84L408.01 211.05L408.14 210.26L408.26 209.47L408.38 208.68L408.51 207.89L408.63 207.10L408.76 206.31L408.88 205.52L409.01 204.73L409.13 203.94L409.26 203.15L409.38 202.36L409.51 201.57L409.64 200.78L409.76 199.99L409.89 199.20L410.02 198.41L410.15 197.62L410.28 196.83L410.41 196.04L410.55 195.26L410.68 194.47L410.82 193.68L410.95 192.89L411.09 192.10L411.23 191.32L411.38 190.53L411.52 189.74L411.67 188.96L411.82 188.17L411.97 187.38L412.13 186.60L412.29 185.81L412.45 185.03L412.61 184.25L412.77 183.46L412.93 182.68L413.10 181.90L413.27 181.12L413.44 180.33L413.61 179.55L413.78 178.77L413.95 177.99L414.12 177.21L414.29 176.43L414.46 175.64L414.63 174.86L414.80 174.08L414.96 173.30L415.13 172.52L415.29 171.73L415.46 170.95L415.62 170.17L415.78 169.38L415.93 168.60L416.09 167.81L416.24 167.03L416.39 166.24L416.54 165.46L416.69 164.67L416.83 163.88L416.97 163.09L417.11 162.31L417.24 161.52L417.38 160.73L417.51 159.94L417.64 159.15L417.77 158.36L417.89 157.57L418.02 156.78L418.15 155.99L418.28 155.20L418.42 154.41L418.56 153.63L418.70 152.84L418.84 152.05L419.00 151.27L419.15 150.48L419.32 149.70L419.49 148.92L419.66 148.14L419.85 147.36L420.04 146.58L420.23 145.81L420.43 145.03L420.64 144.26L420.86 143.49L421.08 142.72L421.30 141.95L421.53 141.19L421.77 140.42L422.02 139.66L422.27 138.90L422.53 138.14L422.80 137.38L423.08 136.62L423.39 135.86L423.72 135.11L424.09 134.37L424.51 133.67L425.00 133.04L425.56 132.54L426.17 132.22L426.81 132.13L427.44 132.27L428.01 132.64L428.52 133.19L428.96 133.85L429.33 134.58L429.65 135.35L429.94 136.12L430.21 136.89L430.46 137.66L430.71 138.42L430.95 139.19L431.19 139.95L431.43 140.72L431.66 141.49L431.89 142.25L432.12 143.02L432.35 143.79L432.57 144.55L432.79 145.32L433.00 146.09L433.21 146.87L433.41 147.64L433.61 148.42L433.80 149.19L433.98 149.97L434.15 150.75L434.32 151.53L434.48 152.32L434.64 153.10L434.79 153.89L434.93 154.68L435.07 155.46L435.20 156.25L435.33 157.04L435.46 157.83L435.59 158.62L435.71 159.41L435.83 160.20L435.94 161.00L436.06 161.79L436.17 162.58L436.28 163.37L436.39 164.16L436.50 164.96L436.61 165.75L436.72 166.54L436.82 167.33L436.93 168.13L437.03 168.92L437.13 169.71L437.23 170.51L437.34 171.30L437.44 172.10L437.54 172.89L437.64 173.68L437.74 174.48L437.84 175.27L437.94 176.06L438.04 176.86L438.13 177.65L438.23 178.45L438.33 179.24L438.43 180.03L438.53 180.83L438.62 181.62L438.72 182.42L438.82 183.21L438.91 184.00L439.01 184.80L439.10 185.59L439.20 186.39L439.30 187.18L439.39 187.98L439.49 188.77L439.58 189.56L439.68 190.36L439.77 191.15L439.87 191.95L439.96 192.74L440.06 193.54L440.15 194.33L440.25 195.12L440.34 195.92L440.44 196.71L440.53 197.51L440.63 198.30L440.72 199.10L440.82 199.89L440.91 200.68L441.01 201.48L441.10 202.27L441.20 203.07L441.29 203.86L441.39 204.66L441.48 205.45L441.58 206.24L441.67 207.04L441.77 207.83L441.87 208.63L441.96 209.42L442.06 210.22L442.15 211.01L442.25 211.80L442.35 212.60L442.44 213.39L442.54 214.19L442.64 214.98L442.73 215.78L442.83 216.57L442.93 217.36L443.02 218.16L443.12 218.95L443.22 219.75L443.32 220.54L443.41 221.33L443.51 222.13L443.61 222.92L443.71 223.72L443.80 224.51L443.90 225.30L444.00 226.10L444.10 226.89L444.20 227.69L444.29 228.48L444.39 229.27L444.49 230.07L444.59 230.86L444.69 231.66L444.79 232.45L444.89 233.24L444.99 234.04L445.09 234.83L445.18 235.62L445.28 236.42L445.38 237.21L445.48 238.01L445.58 238.80L445.68 239.59L445.78 240.39L445.88 241.18L445.98 241.97L446.08 242.77L446.18 243.56L446.28 244.36L446.38 245.15L446.49 245.94L446.59 246.74L446.69 247.53L446.79 248.32L446.89 249.12L446.99 249.91L447.09 250.70L447.19 251.50L447.30 252.29L447.40 253.08L447.50 253.88L447.60 254.67L447.70 255.46L447.81 256.26L447.91 257.05L448.01 257.84L448.12 258.64L448.22 259.43L448.32 260.22L448.43 261.02L448.53 261.81L448.64 262.60L448.74 263.40L448.85 264.19L448.96 264.98L449.06 265.78L449.17 266.57L449.28 267.36L449.39 268.15L449.49 268.95L449.60 269.74L449.71 270.53L449.82 271.32L449.93 272.12L450.04 272.91L450.16 273.70L450.27 274.49L450.38 275.28L450.50 276.08L450.61 276.87L450.73 277.66L450.84 278.45L450.96 279.24L451.08 280.03L451.20 280.82L451.32 281.62L451.44 282.41L451.57 283.20L451.69 283.99L451.82 284.78L451.94 285.57L452.07 286.36L452.20 287.15L452.33 287.94L452.46 288.72L452.60 289.51L452.73 290.30L452.87 291.09L453.01 291.88L453.16 292.66L453.30 293.45L453.45 294.24L453.60 295.02L453.75 295.81L453.91 296.59L454.07 297.38L454.23 298.16L454.39 298.94L454.56 299.72L454.74 300.51L454.91 301.29L455.09 302.07L455.27 302.84L455.46 303.62L455.66 304.40L455.85 305.17L456.06 305.95L456.26 306.72L456.48 307.49L456.70 308.26L456.93 309.03L457.16 309.79L457.40 310.56L457.65 311.32L457.91 312.08L458.18 312.83L458.46 313.58L458.75 314.33L459.05 315.08L459.37 315.81L459.70 316.55L460.05 317.27L460.43 317.99L460.82 318.69L461.24 319.37L461.70 320.03L462.18 320.67L462.70 321.26L463.26 321.81L463.86 322.30L464.50 322.73L465.18 323.09L465.89 323.38L466.63 323.60L467.40 323.75L468.19 323.86L468.98 323.93L469.78 323.99L470.58 324.05L471.37 324.14L472.15 324.27L472.90 324.47L473.63 324.73L474.32 325.06L474.98 325.45L475.60 325.92L476.19 326.43L476.74 327.00L477.27 327.60L477.76 328.23L478.23 328.88L478.68 329.55L479.11 330.23L479.52 330.92L479.92 331.62L480.31 332.33L480.69 333.04L481.05 333.75L481.41 334.47L481.76 335.19L482.11 335.91L482.45 336.64L482.78 337.36L483.11 338.09L483.43 338.82L483.76 339.56L484.08 340.29L484.39 341.03L484.71 341.76L485.02 342.50L485.34 343.23L485.65 343.97L485.96 344.71L486.27 345.44L486.58 346.18L486.89 346.92L487.21 347.65L487.52 348.39L487.84 349.12L488.16 349.86L488.48 350.59L488.80 351.32L489.13 352.05L489.46 352.78L489.79 353.51L490.13 354.23L490.47 354.96L490.81 355.68L491.16 356.40L491.51 357.12L491.87 357.83L492.23 358.55L492.60 359.26L492.97 359.97L493.35 360.67L493.74 361.37L494.13 362.07L494.53 362.77L494.93 363.46L495.34 364.14L495.76 364.82L496.19 365.50L496.63 366.17L497.08 366.84L497.54 367.49L498.01 368.14L498.50 368.78L499.00 369.41L499.53 370.02L500.07 370.62L500.63 371.19L501.21 371.73L501.82 372.24L502.46 372.71L503.13 373.13L503.82 373.49L504.53 373.80L505.27 374.04L506.03 374.21L506.81 374.33L507.60 374.40L508.40 374.42L509.20 374.42L510.01 374.40L510.82 374.38L511.62 374.38L512.42 374.41L513.21 374.48L513.98 374.61L514.74 374.80L515.47 375.05L516.19 375.36L516.88 375.72L517.55 376.14L518.19 376.61L518.80 377.11L519.40 377.65L519.97 378.21L520.53 378.79L521.07 379.38L521.60 379.99L522.12 380.61L522.62 381.23L523.12 381.86L523.61 382.49L524.09 383.13L524.57 383.77L525.05 384.42L525.52 385.07L525.99 385.72L526.45 386.37L526.92 387.02L527.38 387.67L527.85 388.32L528.31 388.97L528.78 389.63L529.24 390.28L529.71 390.92L530.18 391.57L530.66 392.21L531.14 392.86L531.62 393.49L532.12 394.12L532.61 394.75L533.12 395.37L533.64 395.98L534.17 396.58L534.71 397.18L535.26 397.76L535.83 398.32L536.41 398.87L537.01 399.40L537.62 399.91L538.25 400.40L538.90 400.87L539.57 401.30L540.26 401.71L540.96 402.09L541.68 402.43L542.41 402.73L543.16 403.00L543.92 403.23L544.69 403.42L545.47 403.57L546.26 403.69L547.06 403.77L547.85 403.82L548.65 403.85L549.46 403.86L550.26 403.86L551.06 403.86L551.87 403.86L552.67 403.87L553.47 403.89L554.27 403.93L555.07 404.00L555.86 404.11L556.64 404.24L557.42 404.41L558.19 404.61L558.94 404.86L559.69 405.13L560.42 405.44L561.14 405.79L561.85 406.16L562.54 406.57L563.21 407.00L563.87 407.45L564.51 407.93L565.13 408.42L565.75 408.94L566.35 409.47L566.93 410.01L567.51 410.57L568.08 411.13L568.64 411.71L569.19 412.29L569.74 412.87L570.29 413.45L570.84 414.04L571.38 414.63L571.93 415.21L572.48 415.79L573.04 416.37L573.60 416.94L574.17 417.50L574.75 418.05L575.35 418.59L575.95 419.12L576.57 419.62L577.20 420.11L577.85 420.58L578.51 421.03L579.19 421.45L579.88 421.84L580.59 422.20L581.32 422.53L582.06 422.83L582.81 423.09L583.57 423.31L584.35 423.49L585.13 423.64L585.92 423.74L586.71 423.81L587.51 423.85L588.31 423.87L589.11 423.86L589.91 423.83L590.72 423.80L591.52 423.76L592.32 423.73L593.13 423.72L593.93 423.72L594.72 423.75L595.52 423.81L596.31 423.90L597.09 424.04L597.86 424.22L598.62 424.44L599.37 424.70L600.10 425.00L600.83 425.33L601.54 425.69L602.23 426.08L602.92 426.50L603.59 426.93L604.26 427.37L604.92 427.83L605.57 428.30L606.22 428.77L606.86 429.25L607.50 429.73L608.14 430.21L608.78 430.70L609.41 431.18L610.05 431.67L610.69 432.16L611.33 432.64L611.97 433.12L612.61 433.60L613.25 434.07L613.90 434.54L614.56 435.00L615.22 435.46L615.88 435.90L616.55 436.34L617.23 436.76L617.92 437.18L618.61 437.58L619.32 437.96L620.03 438.32L620.76 438.65L621.50 438.96L622.24 439.24L623.00 439.49L623.76 439.70L624.54 439.88L625.32 440.01L626.11 440.10L626.90 440.15L627.69 440.16L628.49 440.13L629.29 440.07L630.08 439.99L630.88 439.88L631.68 439.76L632.47 439.64L633.27 439.52L634.06 439.41L634.86 439.32L635.66 439.25L636.45 439.21L637.25 439.22L638.04 439.26L638.82 439.35L639.60 439.49L640.37 439.68L641.12 439.91L641.87 440.19L642.60 440.50L643.31 440.85L644.02 441.23L644.71 441.64L645.39 442.06L646.06 442.50L646.72 442.95L647.38 443.41L648.03 443.88L648.68 444.35L649.33 444.82L649.98 445.29L650.63 445.76L651.28 446.23L651.93 446.69L652.59 447.15L653.25 447.60L653.91 448.05L654.58 448.48L655.26 448.91L655.95 449.33L656.64 449.73L657.34 450.12L658.05 450.49L658.76 450.85L659.49 451.19L660.22 451.50L660.97 451.80L661.72 452.06L662.49 452.29L663.26 452.49L664.03 452.66L664.82 452.79L665.61 452.87L666.40 452.92L667.19 452.93L667.99 452.90L668.78 452.84L669.58 452.74L670.37 452.63L671.16 452.49L671.95 452.34L672.74 452.19L673.54 452.04L674.33 451.91L675.12 451.79L675.92 451.70L676.71 451.64L677.50 451.62L678.29 451.64L679.08 451.71L679.86 451.83L680.63 452.00L681.39 452.21L682.14 452.48L682.87 452.78L683.59 453.12L684.30 453.49L684.99 453.89L685.68 454.30L686.36 454.74L687.03 455.18L687.69 455.63L688.35 456.08L689.02 456.54L689.68 456.99L690.34 457.44L691.01 457.89L691.68 458.32L692.35 458.75L693.04 459.17L693.73 459.57L694.42 459.96L695.13 460.34L695.84 460.70L696.56 461.05L697.29 461.38L698.03 461.69L698.77 461.98L699.53 462.26L700.29 462.51L701.05 462.73L701.83 462.94L702.60 463.11L703.39 463.26L704.18 463.38L704.97 463.47L705.76 463.53L706.56 463.56L707.36 463.57L708.16 463.54L708.95 463.48L709.75 463.41L710.54 463.31L711.33 463.20L712.13 463.07L712.92 462.94L713.71 462.80L714.50 462.66L715.29 462.53L716.08 462.41L716.88 462.31L717.67 462.22L718.47 462.16L719.27 462.13L720.06 462.13L720.86 462.17L721.65 462.24L722.44 462.35L723.22 462.50L723.99 462.68L724.76 462.89L725.52 463.13L726.27 463.41L727.01 463.70L727.75 464.02L728.48 464.35L729.20 464.70L729.92 465.05L730.63 465.42L731.34 465.80L732.04 466.18L732.75 466.56L733.45 466.94L734.15 467.33L734.85 467.71L735.56 468.09L736.26 468.47L736.97 468.85L737.68 469.22L738.39 469.58L739.11 469.94L739.83 470.29L740.55 470.63L741.27 470.97L742.01 471.30L742.74 471.61L743.48 471.91L744.23 472.20L744.98 472.48L745.73 472.74L746.50 472.98L747.26 473.21L748.03 473.42L748.81 473.61L749.59 473.78L750.38 473.94L751.16 474.07L751.96 474.18L752.75 474.27L753.55 474.34L754.34 474.40L755.14 474.43L755.94 474.44L756.75 474.43L757.54 474.40L758.34 474.34L759.14 474.26L759.93 474.16L760.71 474.04L761.50 473.90L762.28 473.74L763.06 473.55L763.84 473.35L764.61 473.12" stroke="#0000ff" stroke-width="1.58"/>
<path d="M116.58 331.61L119.32 331.71M125.63 331.45L128.38 331.39M134.76 331.88L137.50 331.73M143.89 331.59L146.64 331.51M153.02 331.76L155.77 331.72M162.15 331.21L164.90 331.24M171.29 331.26L174.03 331.35M180.40 330.74L183.15 330.72M189.54 330.71L192.29 330.61M198.65 330.04L201.39 329.78M207.78 329.74L210.53 329.80M216.88 328.95L219.63 328.84M226.01 328.51L228.76 328.43M235.09 327.52L237.80 327.06M244.19 326.78L246.94 326.68M253.25 325.63L255.97 325.25M262.34 324.72L265.06 324.33M271.33 323.07L274.03 322.56M280.38 321.79L283.10 321.42M289.26 319.67L291.97 319.19M298.24 317.96L300.94 317.43M307.05 315.53L309.75 315.02M316.00 313.71L318.65 312.96M324.69 310.87L327.27 309.92M333.43 308.19L335.93 307.05M341.74 304.38L344.28 303.33M350.16 300.81L352.52 299.40M357.82 295.84L359.94 294.08M365.37 290.69L367.49 288.94M372.43 284.89L374.65 283.27M379.70 279.34L381.67 277.42M385.90 272.63L387.70 270.56M392.02 265.85L393.72 263.69M397.19 258.32L398.72 256.04M402.33 250.76L403.70 248.38M406.35 242.56L407.38 240.01M410.27 234.31L411.46 231.83M413.53 225.78L414.34 223.15M416.76 217.23L417.49 214.58M418.85 208.34L419.56 205.68M420.90 199.44L421.34 196.72M421.78 190.34L422.04 187.61M423.06 181.30L423.53 178.59M423.75 172.18L424.31 169.49M425.55 163.21L426.03 160.51M426.49 154.13L426.91 151.42M427.33 145.04L427.40 142.29M427.16 135.90L427.06 133.15M427.54 126.78L427.65 124.03M427.51 117.64L427.67 114.89M428.19 108.53L428.31 105.78M428.19 99.39L428.20 96.64M428.69 90.35L428.80 87.60M428.49 81.29L428.74 78.55M428.99 72.25L429.29 69.51M429.15 63.20L429.08 60.45M429.69 54.17L429.90 51.42M429.75 45.11L430.00 42.37" stroke="#0000ff" stroke-width="1.65" stroke-linecap="butt"/>
<path d="M431.79 46.87L431.80 49.62M432.36 55.86L432.56 58.60M432.36 64.87L432.64 67.60M433.02 73.85L433.17 76.59M433.01 82.85L433.07 85.60M433.58 91.84L433.56 94.59M433.50 100.85L433.39 103.59M433.94 109.77L433.92 112.52M433.80 118.71L433.84 121.46M434.23 127.64L434.42 130.38M434.27 136.58L434.12 139.32M434.75 145.50L434.74 148.25M434.74 154.44L434.67 157.19M435.26 163.36L435.62 166.09M435.68 172.28L435.71 175.03M436.61 181.17L436.92 183.90M437.42 190.07L437.85 192.79M439.12 198.85L439.53 201.57M439.81 207.77L439.89 210.51M440.88 216.64L441.05 219.38M441.50 225.56L441.73 228.30M443.12 234.34L443.56 237.05M444.81 243.12L445.53 245.77M447.45 251.65L448.34 254.26M449.73 260.30L450.66 262.89M452.64 268.75L453.37 271.40M455.15 277.34L456.26 279.85M458.79 285.51L460.05 287.95M462.09 293.82L463.37 296.25M466.26 301.73L467.33 304.26M469.73 309.98L471.00 312.42M474.25 317.68L475.75 319.99M479.01 325.25L480.63 327.47M484.67 332.16L486.41 334.28M490.21 339.17L492.00 341.26M496.30 345.72L498.23 347.68M502.12 352.50L503.92 354.58M508.64 358.61L510.82 360.29M515.34 364.52L517.55 366.16M522.73 369.56L524.91 371.23M529.85 374.97L532.07 376.59M537.32 379.87L539.61 381.39M544.58 385.09L546.80 386.72M552.35 389.50L554.61 391.06M559.87 394.33L562.24 395.73M567.89 398.28L570.25 399.69M575.75 402.54L578.23 403.73M583.95 406.10L586.49 407.15M591.82 410.00L594.31 411.16M599.97 413.28L602.46 414.45M607.88 417.12L610.41 418.21M616.11 420.18L618.71 421.09M624.28 423.43L626.86 424.36M632.73 425.88L635.26 426.96M640.92 429.05L643.44 430.16M649.27 431.76L651.93 432.45M657.58 434.62L660.18 435.52M666.08 436.83L668.69 437.69M674.48 439.42L677.09 440.29M683.02 441.46L685.72 441.99M691.44 443.98L694.15 444.45M700.03 445.82L702.72 446.41M708.45 448.33L711.10 449.07M717.04 450.19L719.67 451.00M725.68 452.75L728.38 453.28M734.56 454.31L737.19 455.10M743.25 456.71L745.98 457.04" stroke="#0000ff" stroke-width="1.65" stroke-linecap="butt"/>
<path d="M96.00 473.30L96.77 473.53L97.54 473.74L98.32 473.94L99.10 474.12L99.88 474.28L100.66 474.43L101.45 474.56L102.24 474.68L103.03 474.78L103.83 474.87L104.62 474.94L105.42 475.00L106.22 475.04L107.02 475.08L107.82 475.10L108.62 475.11L109.42 475.11L110.22 475.10L111.02 475.09L111.82 475.06L112.62 475.02L113.42 474.97L114.22 474.92L115.01 474.86L115.81 474.79L116.61 474.72L117.40 474.64L118.20 474.55L119.00 474.47L119.79 474.38L120.58 474.29L121.38 474.19L122.17 474.10L122.97 474.01L123.76 473.91L124.56 473.82L125.35 473.73L126.15 473.65L126.95 473.57L127.74 473.50L128.54 473.43L129.34 473.37L130.14 473.31L130.93 473.27L131.73 473.23L132.53 473.21L133.33 473.20L134.13 473.20L134.93 473.21L135.73 473.23L136.53 473.26L137.33 473.31L138.12 473.37L138.92 473.43L139.72 473.51L140.51 473.59L141.31 473.68L142.10 473.77L142.90 473.87L143.69 473.97L144.49 474.08L145.28 474.18L146.07 474.28L146.87 474.38L147.66 474.48L148.46 474.57L149.25 474.65L150.05 474.73L150.84 474.80L151.64 474.86L152.44 474.91L153.24 474.95L154.04 474.97L154.84 474.98L155.64 474.98L156.44 474.96L157.23 474.93L158.03 474.89L158.83 474.83L159.63 474.77L160.42 474.69L161.22 474.61L162.01 474.51L162.81 474.42L163.60 474.31L164.40 474.21L165.19 474.10L165.98 474.00L166.78 473.89L167.57 473.79L168.36 473.69L169.16 473.60L169.95 473.51L170.75 473.44L171.55 473.37L172.34 473.31L173.14 473.27L173.94 473.24L174.74 473.22L175.54 473.22L176.34 473.23L177.14 473.26L177.94 473.30L178.73 473.36L179.53 473.43L180.33 473.50L181.12 473.59L181.92 473.68L182.71 473.78L183.51 473.88L184.30 473.99L185.09 474.10L185.88 474.21L186.68 474.31L187.47 474.42L188.27 474.52L189.06 474.61L189.86 474.70L190.65 474.77L191.45 474.84L192.25 474.89L193.04 474.94L193.84 474.96L194.64 474.98L195.44 474.98L196.24 474.96L197.04 474.93L197.84 474.89L198.64 474.83L199.43 474.76L200.23 474.68L201.02 474.59L201.82 474.50L202.61 474.39L203.40 474.29L204.20 474.18L204.99 474.06L205.78 473.95L206.57 473.84L207.37 473.73L208.16 473.62L208.95 473.52L209.75 473.42L210.54 473.33L211.34 473.25L212.14 473.18L212.93 473.12L213.73 473.07L214.53 473.04L215.33 473.02L216.13 473.02L216.93 473.03L217.73 473.06L218.52 473.10L219.32 473.15L220.12 473.22L220.92 473.29L221.71 473.38L222.51 473.47L223.30 473.57L224.09 473.67L224.89 473.77L225.68 473.88L226.47 473.98L227.27 474.09L228.06 474.19L228.86 474.28L229.65 474.37L230.45 474.45L231.25 474.52L232.04 474.58L232.84 474.63L233.64 474.66L234.44 474.68L235.24 474.68L236.04 474.67L236.83 474.64L237.63 474.59L238.43 474.54L239.23 474.46L240.02 474.38L240.82 474.28L241.61 474.18L242.40 474.07L243.19 473.95L243.98 473.83L244.77 473.70L245.56 473.57L246.35 473.44L247.15 473.32L247.94 473.19L248.73 473.07L249.52 472.96L250.31 472.85L251.11 472.75L251.90 472.66L252.70 472.59L253.49 472.52L254.29 472.48L255.09 472.44L255.89 472.43L256.69 472.42L257.49 472.44L258.29 472.47L259.08 472.52L259.88 472.58L260.68 472.66L261.47 472.75L262.27 472.84L263.06 472.94L263.85 473.05L264.65 473.17L265.44 473.28L266.23 473.40L267.02 473.51L267.81 473.62L268.61 473.73L269.40 473.83L270.20 473.92L270.99 474.00L271.79 474.07L272.59 474.13L273.39 474.17L274.18 474.19L274.98 474.20L275.78 474.18L276.58 474.15L277.38 474.10L278.17 474.03L278.97 473.94L279.76 473.84L280.55 473.72L281.34 473.59L282.13 473.44L282.91 473.29L283.70 473.13L284.48 472.97L285.26 472.80L286.05 472.63L286.83 472.46L287.61 472.29L288.39 472.12L289.18 471.96L289.96 471.80L290.75 471.65L291.54 471.51L292.32 471.38L293.12 471.26L293.91 471.16L294.70 471.08L295.50 471.01L296.30 470.96L297.09 470.94L297.89 470.93L298.69 470.94L299.49 470.98L300.29 471.03L301.08 471.10L301.88 471.18L302.67 471.28L303.47 471.38L304.26 471.50L305.05 471.62L305.84 471.74L306.63 471.87L307.42 471.99L308.22 472.11L309.01 472.23L309.80 472.33L310.60 472.43L311.39 472.51L312.19 472.58L312.98 472.63L313.78 472.66L314.58 472.68L315.38 472.67L316.18 472.64L316.97 472.58L317.77 472.51L318.56 472.42L319.35 472.31L320.14 472.18L320.93 472.04L321.72 471.89L322.50 471.72L323.28 471.55L324.06 471.37L324.84 471.18L325.62 470.99L326.39 470.80L327.17 470.61L327.95 470.41L328.73 470.22L329.50 470.03L330.28 469.85L331.06 469.68L331.85 469.51L332.63 469.36L333.42 469.22L334.21 469.09L335.00 468.98L335.80 468.88L336.59 468.81L337.39 468.76L338.18 468.73L338.98 468.72L339.78 468.74L340.58 468.78L341.37 468.84L342.17 468.93L342.96 469.03L343.75 469.14L344.54 469.27L345.33 469.41L346.12 469.56L346.91 469.70L347.70 469.85L348.48 469.99L349.27 470.13L350.06 470.26L350.85 470.37L351.65 470.47L352.44 470.55L353.24 470.61L354.04 470.65L354.83 470.66L355.63 470.65L356.43 470.61L357.22 470.55L358.02 470.46L358.81 470.35L359.60 470.21L360.38 470.06L361.16 469.89L361.94 469.71L362.72 469.52L363.49 469.31L364.26 469.10L365.03 468.88L365.80 468.65L366.57 468.42L367.33 468.19L368.10 467.96L368.87 467.72L369.63 467.50L370.40 467.27L371.17 467.06L371.95 466.85L372.72 466.65L373.50 466.46L374.28 466.28L375.07 466.12L375.85 465.98L376.64 465.86L377.43 465.76L378.23 465.69L379.03 465.64L379.82 465.62L380.62 465.63L381.42 465.66L382.21 465.72L383.00 465.80L383.80 465.91L384.59 466.03L385.37 466.17L386.16 466.33L386.95 466.49L387.73 466.65L388.52 466.82L389.30 466.98L390.09 467.13L390.88 467.27L391.67 467.39L392.46 467.50L393.25 467.58L394.05 467.63L394.85 467.65L395.64 467.64L396.44 467.61L397.23 467.54L398.02 467.44L398.81 467.31L399.59 467.15L400.37 466.97L401.14 466.77L401.91 466.55L402.68 466.32L403.44 466.07L404.20 465.81L404.95 465.54L405.70 465.26L406.45 464.98L407.20 464.69L407.95 464.41L408.70 464.12L409.45 463.84L410.20 463.55L410.95 463.28L411.70 463.01L412.46 462.75L413.22 462.51L413.99 462.28L414.76 462.06L415.54 461.87L416.32 461.70L417.10 461.55L417.89 461.43L418.68 461.34L419.48 461.28L420.27 461.25L421.07 461.26L421.86 461.29L422.66 461.36L423.45 461.45L424.24 461.57L425.03 461.70L425.82 461.86L426.60 462.02L427.39 462.19L428.17 462.36L428.96 462.53L429.74 462.69L430.53 462.85L431.32 462.98L432.11 463.10L432.90 463.19L433.70 463.25L434.49 463.28L435.29 463.27L436.08 463.23L436.87 463.14L437.65 463.02L438.43 462.85L439.20 462.65L439.96 462.41L440.71 462.15L441.46 461.85L442.19 461.53L442.92 461.19L443.63 460.84L444.34 460.47L445.05 460.09L445.75 459.70L446.45 459.30L447.14 458.90L447.83 458.50L448.53 458.09L449.22 457.69L449.92 457.29L450.61 456.90L451.32 456.51L452.02 456.13L452.74 455.76L453.46 455.41L454.18 455.07L454.92 454.76L455.67 454.47L456.42 454.21L457.19 453.98L457.96 453.80L458.74 453.65L459.52 453.54L460.31 453.49L461.10 453.48L461.89 453.52L462.68 453.60L463.46 453.73L464.25 453.89L465.02 454.09L465.79 454.31L466.56 454.55L467.32 454.80L468.08 455.07L468.85 455.33L469.61 455.58L470.38 455.83L471.15 456.05L471.93 456.25L472.71 456.42L473.50 456.54L474.28 456.62L475.07 456.65L475.86 456.63L476.64 456.54L477.41 456.40L478.17 456.20L478.92 455.94L479.65 455.63L480.36 455.28L481.05 454.89L481.73 454.46L482.39 454.01L483.04 453.53L483.67 453.04L484.29 452.53L484.91 452.01L485.51 451.48L486.11 450.94L486.70 450.40L487.28 449.85L487.87 449.30L488.45 448.75L489.03 448.20L489.61 447.65L490.19 447.10L490.78 446.55L491.37 446.01L491.97 445.47L492.57 444.94L493.18 444.42L493.80 443.91L494.44 443.41L495.08 442.93L495.75 442.47L496.43 442.04L497.12 441.65L497.84 441.29L498.57 440.99L499.31 440.74L500.07 440.55L500.84 440.43L501.62 440.39L502.39 440.41L503.16 440.51L503.92 440.68L504.68 440.92L505.42 441.20L506.15 441.54L506.86 441.90L507.57 442.30L508.27 442.71L508.97 443.13L509.67 443.55L510.38 443.96L511.09 444.34L511.82 444.70L512.55 445.01L513.30 445.27L514.06 445.47L514.82 445.59L515.59 445.63L516.34 445.57L517.09 445.43L517.81 445.20L518.51 444.88L519.18 444.49L519.82 444.03L520.43 443.52L521.01 442.96L521.55 442.37L522.08 441.76L522.58 441.12L523.06 440.47L523.52 439.81L523.97 439.14L524.41 438.46L524.84 437.78L525.26 437.10L525.68 436.42L526.09 435.73L526.49 435.03L526.89 434.34L527.29 433.65L527.68 432.95L528.07 432.25L528.46 431.55L528.85 430.85L529.24 430.15L529.63 429.45L530.01 428.75L530.40 428.05L530.79 427.35L531.18 426.65L531.57 425.95L531.97 425.26L532.36 424.56L532.77 423.87L533.17 423.18L533.58 422.49L534.00 421.81L534.43 421.12L534.86 420.45L535.30 419.77L535.76 419.10L536.23 418.44L536.72 417.79L537.23 417.16L537.76 416.54L538.33 415.96L538.92 415.42L539.54 414.92L540.19 414.50L540.88 414.15L541.58 413.90L542.31 413.75L543.04 413.72L543.76 413.79L544.48 413.98L545.18 414.26L545.86 414.63L546.50 415.08L547.12 415.59L547.72 416.14L548.28 416.72L548.83 417.32L549.37 417.94L549.89 418.57L550.41 419.20L550.93 419.84L551.45 420.47L551.97 421.10L552.51 421.72L553.07 422.33L553.65 422.91L554.25 423.46L554.88 423.96L555.54 424.39L556.22 424.74L556.91 424.99L557.61 425.12L558.31 425.12L558.98 424.99L559.63 424.73L560.23 424.34L560.78 423.85L561.27 423.28L561.71 422.63L562.11 421.93L562.45 421.19L562.76 420.43L563.04 419.66L563.29 418.88L563.53 418.10L563.74 417.31L563.95 416.53L564.14 415.74L564.33 414.96L564.50 414.18L564.67 413.39L564.84 412.61L565.00 411.82L565.15 411.04L565.30 410.25L565.44 409.46L565.58 408.68L565.72 407.89L565.85 407.10L565.98 406.31L566.11 405.52L566.23 404.73L566.36 403.94L566.48 403.15L566.59 402.35L566.71 401.56L566.82 400.77L566.94 399.98L567.05 399.19L567.16 398.39L567.27 397.60L567.38 396.81L567.48 396.02L567.59 395.22L567.69 394.43L567.80 393.64L567.90 392.84L568.01 392.05L568.11 391.26L568.21 390.46L568.32 389.67L568.42 388.88L568.52 388.08L568.62 387.29L568.72 386.50L568.82 385.70L568.92 384.91L569.03 384.12L569.13 383.32L569.23 382.53L569.33 381.74L569.43 380.94L569.53 380.15L569.63 379.36L569.74 378.56L569.84 377.77L569.94 376.97L570.04 376.18L570.15 375.39L570.25 374.59L570.35 373.80L570.45 373.01L570.55 372.21L570.65 371.42L570.75 370.63L570.85 369.83L570.95 369.04L571.05 368.25L571.15 367.45L571.25 366.66L571.34 365.86L571.44 365.07L571.54 364.27L571.63 363.48L571.72 362.69L571.82 361.89L571.91 361.10L572.00 360.30L572.09 359.51L572.18 358.71L572.27 357.92L572.36 357.12L572.44 356.33L572.53 355.53L572.61 354.74L572.70 353.94L572.78 353.14L572.86 352.35L572.94 351.55L573.02 350.76L573.10 349.96L573.18 349.16L573.26 348.37L573.34 347.57L573.41 346.78L573.49 345.98L573.56 345.18L573.64 344.39L573.71 343.59L573.78 342.79L573.86 342.00L573.93 341.20L574.00 340.40L574.07 339.61L574.14 338.81L574.21 338.01L574.29 337.22L574.36 336.42L574.43 335.62L574.50 334.82L574.56 334.03L574.63 333.23L574.70 332.43L574.77 331.64L574.84 330.84L574.91 330.04L574.98 329.25L575.05 328.45L575.12 327.65L575.18 326.85L575.25 326.06L575.32 325.26L575.39 324.46L575.46 323.67L575.53 322.87L575.60 322.07L575.67 321.27L575.73 320.48L575.80 319.68L575.87 318.88L575.94 318.09L576.01 317.29L576.08 316.49L576.15 315.70L576.22 314.90L576.29 314.10L576.37 313.31L576.44 312.51L576.51 311.71L576.58 310.92L576.65 310.12L576.72 309.32L576.79 308.52L576.86 307.73L576.94 306.93L577.01 306.13L577.08 305.34L577.15 304.54L577.22 303.74L577.29 302.95L577.36 302.15L577.43 301.35L577.50 300.56L577.57 299.76L577.64 298.96L577.71 298.16L577.77 297.37L577.84 296.57L577.91 295.77L577.98 294.98L578.04 294.18L578.11 293.38L578.17 292.58L578.24 291.79L578.30 290.99L578.37 290.19L578.43 289.39L578.49 288.60L578.55 287.80L578.62 287.00L578.68 286.20L578.74 285.41L578.80 284.61L578.86 283.81L578.92 283.01L578.97 282.22L579.03 281.42L579.09 280.62L579.15 279.82L579.20 279.02L579.26 278.23L579.32 277.43L579.38 276.63L579.43 275.83L579.49 275.03L579.54 274.24L579.60 273.44L579.66 272.64L579.71 271.84L579.77 271.04L579.82 270.25L579.88 269.45L579.94 268.65L579.99 267.85L580.05 267.05L580.10 266.26L580.16 265.46L580.22 264.66L580.27 263.86L580.33 263.06L580.39 262.27L580.45 261.47L580.51 260.67L580.56 259.87L580.62 259.07L580.68 258.28L580.74 257.48L580.80 256.68L580.86 255.88L580.92 255.09L580.99 254.29L581.05 253.49L581.11 252.69L581.18 251.90L581.24 251.10L581.31 250.30L581.37 249.50L581.44 248.71L581.50 247.91L581.57 247.11L581.64 246.31L581.71 245.52L581.78 244.72L581.84 243.92L581.91 243.13L581.98 242.33L582.05 241.53L582.12 240.73L582.19 239.94L582.26 239.14L582.32 238.34L582.39 237.55L582.46 236.75L582.53 235.95L582.60 235.16L582.67 234.36L582.73 233.56L582.80 232.76L582.87 231.97L582.93 231.17L583.00 230.37L583.06 229.57L583.13 228.78L583.19 227.98L583.25 227.18L583.32 226.38L583.38 225.59L583.44 224.79L583.50 223.99L583.56 223.19L583.62 222.40L583.68 221.60L583.74 220.80L583.80 220.00L583.85 219.21L583.91 218.41L583.97 217.61L584.03 216.81L584.08 216.01L584.14 215.22L584.20 214.42L584.25 213.62L584.31 212.82L584.37 212.02L584.43 211.23L584.48 210.43L584.54 209.63L584.60 208.83L584.66 208.03L584.71 207.24L584.77 206.44L584.83 205.64L584.89 204.84L584.95 204.04L585.01 203.25L585.07 202.45L585.13 201.65L585.19 200.85L585.25 200.06L585.31 199.26L585.37 198.46L585.44 197.66L585.50 196.87L585.56 196.07L585.63 195.27L585.69 194.47L585.76 193.68L585.83 192.88L585.89 192.08L585.96 191.28L586.03 190.49L586.10 189.69L586.17 188.89L586.24 188.10L586.32 187.30L586.39 186.50L586.47 185.71L586.55 184.91L586.62 184.12L586.70 183.32L586.79 182.52L586.87 181.73L586.95 180.93L587.04 180.14L587.12 179.34L587.21 178.55L587.31 177.75L587.40 176.96L587.49 176.16L587.59 175.37L587.69 174.58L587.79 173.78L587.90 172.99L588.01 172.20L588.12 171.40L588.23 170.61L588.34 169.82L588.46 169.03L588.58 168.24L588.70 167.45L588.82 166.66L588.95 165.87L589.07 165.08L589.20 164.29L589.32 163.50L589.45 162.70L589.57 161.91L589.70 161.12L589.82 160.33L589.94 159.54L590.06 158.75L590.18 157.96L590.30 157.17L590.41 156.38L590.53 155.59L590.66 154.80L590.78 154.01L590.91 153.22L591.05 152.43L591.19 151.64L591.33 150.85L591.49 150.07L591.64 149.29L591.81 148.50L591.98 147.72L592.16 146.94L592.34 146.16L592.53 145.38L592.72 144.61L592.91 143.83L593.10 143.05L593.30 142.28L593.49 141.50L593.69 140.73L593.88 139.95L594.08 139.17L594.28 138.39L594.49 137.62L594.71 136.84L594.95 136.06L595.22 135.28L595.54 134.52L595.92 133.80L596.38 133.16L596.92 132.63L597.53 132.26L598.19 132.11L598.86 132.19L599.49 132.48L600.06 132.96L600.54 133.58L600.94 134.28L601.26 135.03L601.53 135.81L601.76 136.59L601.96 137.38L602.15 138.16L602.34 138.95L602.52 139.73L602.69 140.51L602.87 141.29L603.05 142.07L603.23 142.85L603.42 143.63L603.61 144.41L603.80 145.18L603.99 145.96L604.18 146.74L604.38 147.51L604.58 148.29L604.78 149.06L604.98 149.83L605.18 150.61L605.39 151.38L605.59 152.16L605.79 152.93L605.99 153.70L606.19 154.48L606.39 155.25L606.59 156.03L606.78 156.80L606.98 157.58L607.16 158.36L607.35 159.14L607.53 159.92L607.71 160.70L607.88 161.48L608.06 162.26L608.23 163.04L608.40 163.82L608.56 164.60L608.73 165.39L608.89 166.17L609.05 166.95L609.21 167.74L609.37 168.52L609.53 169.31L609.68 170.09L609.84 170.88L609.99 171.66L610.15 172.45L610.30 173.23L610.45 174.02L610.60 174.80L610.76 175.59L610.91 176.37L611.06 177.16L611.21 177.94L611.36 178.73L611.51 179.52L611.66 180.30L611.81 181.09L611.96 181.87L612.11 182.66L612.26 183.44L612.41 184.23L612.56 185.02L612.71 185.80L612.86 186.59L613.01 187.37L613.16 188.16L613.31 188.94L613.46 189.73L613.61 190.52L613.77 191.30L613.92 192.09L614.07 192.87L614.22 193.66L614.37 194.44L614.53 195.23L614.68 196.01L614.83 196.80L614.99 197.58L615.15 198.37L615.30 199.15L615.46 199.94L615.62 200.72L615.78 201.50L615.95 202.29L616.11 203.07L616.28 203.85L616.45 204.63L616.62 205.42L616.79 206.20L616.97 206.98L617.15 207.76L617.34 208.53L617.53 209.31L617.72 210.09L617.92 210.86L618.12 211.64L618.32 212.41L618.54 213.18L618.75 213.95L618.98 214.72L619.21 215.49L619.44 216.25L619.69 217.02L619.94 217.78L620.20 218.54L620.46 219.30L620.74 220.05L621.03 220.81L621.33 221.56L621.65 222.31L621.99 223.05L622.36 223.78L622.75 224.50L623.18 225.19L623.65 225.83L624.17 226.42L624.74 226.93L625.35 227.33L626.00 227.60L626.68 227.75L627.36 227.78L628.06 227.68L628.75 227.45L629.43 227.12L630.09 226.70L630.73 226.21L631.36 225.66L631.97 225.09L632.58 224.51L633.19 223.93L633.81 223.37L634.44 222.86L635.09 222.41L635.77 222.04L636.45 221.77L637.15 221.62L637.85 221.59L638.53 221.69L639.20 221.91L639.83 222.26L640.43 222.70L641.00 223.23L641.52 223.83L642.00 224.47L642.46 225.15L642.88 225.85L643.28 226.57L643.66 227.29L644.03 228.02L644.39 228.75L644.73 229.48L645.07 230.21L645.40 230.94L645.73 231.68L646.05 232.41L646.37 233.14L646.68 233.88L647.00 234.62L647.31 235.35L647.62 236.09L647.93 236.83L648.23 237.57L648.54 238.31L648.85 239.05L649.15 239.79L649.46 240.52L649.77 241.26L650.08 242.00L650.39 242.74L650.70 243.48L651.01 244.21L651.33 244.95L651.64 245.68L651.96 246.42L652.28 247.15L652.60 247.88L652.93 248.61L653.25 249.34L653.58 250.07L653.92 250.80L654.26 251.53L654.60 252.25L654.94 252.97L655.30 253.69L655.65 254.41L656.01 255.12L656.38 255.83L656.76 256.54L657.14 257.24L657.54 257.94L657.94 258.64L658.35 259.33L658.78 260.01L659.22 260.68L659.68 261.35L660.16 262.00L660.66 262.64L661.18 263.25L661.73 263.84L662.31 264.40L662.92 264.91L663.57 265.36L664.24 265.75L664.94 266.07L665.67 266.30L666.41 266.43L667.16 266.48L667.92 266.42L668.67 266.28L669.42 266.06L670.15 265.77L670.88 265.42L671.59 265.03L672.30 264.61L673.00 264.18L673.70 263.75L674.41 263.35L675.13 262.97L675.86 262.65L676.60 262.39L677.35 262.21L678.10 262.12L678.85 262.12L679.58 262.23L680.30 262.43L681.00 262.73L681.66 263.11L682.30 263.57L682.90 264.08L683.47 264.65L684.01 265.25L684.53 265.87L685.02 266.52L685.50 267.17L685.95 267.84L686.40 268.52L686.83 269.19L687.26 269.88L687.67 270.57L688.08 271.25L688.49 271.95L688.89 272.64L689.29 273.34L689.68 274.03L690.07 274.73L690.46 275.43L690.84 276.13L691.23 276.83L691.62 277.54L692.00 278.24L692.38 278.94L692.77 279.64L693.16 280.34L693.54 281.04L693.93 281.74L694.33 282.44L694.72 283.13L695.12 283.83L695.52 284.52L695.93 285.21L696.35 285.89L696.77 286.58L697.19 287.25L697.63 287.93L698.08 288.60L698.53 289.26L699.01 289.91L699.49 290.55L700.00 291.18L700.52 291.79L701.06 292.39L701.63 292.96L702.23 293.49L702.85 293.99L703.51 294.45L704.19 294.84L704.89 295.17L705.62 295.43L706.37 295.61L707.13 295.71L707.90 295.72L708.66 295.65L709.43 295.50L710.18 295.28L710.93 295.01L711.67 294.68L712.39 294.32L713.11 293.93L713.82 293.53L714.53 293.13L715.25 292.73L715.97 292.36L716.70 292.01L717.44 291.71L718.19 291.46L718.95 291.27L719.71 291.16L720.48 291.13L721.24 291.18L721.99 291.33L722.72 291.56L723.43 291.87L724.11 292.24L724.77 292.69L725.39 293.18L725.99 293.71L726.56 294.28L727.10 294.88L727.63 295.49L728.13 296.13L728.61 296.77L729.08 297.43L729.54 298.09L729.98 298.76L730.42 299.43L730.85 300.11L731.27 300.79L731.68 301.48L732.09 302.17L732.50 302.86L732.90 303.55L733.30 304.24L733.70 304.93L734.10 305.63L734.51 306.32L734.91 307.01L735.32 307.70L735.74 308.38L736.16 309.06L736.59 309.74L737.03 310.41L737.47 311.07L737.93 311.73L738.40 312.37L738.89 313.01L739.39 313.63L739.90 314.24L740.43 314.84L740.97 315.43L741.53 316.00L742.11 316.56L742.70 317.10L743.30 317.63L743.91 318.14L744.54 318.64L745.18 319.12L745.83 319.59L746.49 320.05L747.17 320.48L747.85 320.90L748.55 321.30L749.26 321.67L749.99 322.01L750.72 322.31L751.47 322.58L752.23 322.81L753.00 323.00L753.78 323.15L754.56 323.26L755.35 323.30L756.15 323.28L756.94 323.20L757.72 323.05L758.49 322.83L759.23 322.55L759.96 322.22L760.65 321.83L761.32 321.39L761.97 320.91L762.58 320.39L763.17 319.85L763.74 319.27" stroke="#00a000" stroke-width="1.58"/>
<path d="M116.75 488.27L119.49 488.43M125.88 487.96L128.62 488.14M134.97 488.34L137.72 488.39M144.07 488.02L146.82 488.03M153.16 488.42L155.91 488.29M162.26 488.00L165.00 488.10M171.36 488.40L174.10 488.23M180.45 487.96L183.19 487.83M189.54 488.19L192.29 488.06M198.63 487.68L201.38 487.68M207.73 487.96L210.48 487.82M216.82 487.53L219.57 487.39M225.92 487.74L228.67 487.54M235.01 487.12L237.76 487.28M244.11 487.47L246.86 487.29M253.20 486.99L255.95 486.80M262.30 487.00L265.05 487.07M271.38 486.55L274.13 486.52M280.48 486.64L283.23 486.58M289.57 486.00L292.32 486.14M298.67 486.12L301.42 486.18M307.75 485.52L310.50 485.63M316.85 485.67L319.60 485.56M325.86 485.03L328.60 484.88M334.88 484.96L337.63 484.84M343.87 484.14L346.62 483.96M352.90 483.93L355.63 483.55M361.87 482.94L364.60 482.62M370.89 482.48L373.63 482.32M379.85 481.41L382.59 481.22M388.87 480.97L391.61 480.88M397.82 479.85L400.57 479.79M406.86 479.57L409.57 479.13M415.81 478.38L418.51 477.89M424.79 477.55L427.53 477.35M433.72 476.25L436.42 475.75M442.69 475.32L445.40 474.82M451.18 473.31L453.84 472.60M459.25 472.89L461.94 472.34M466.84 469.84L469.59 469.99M475.05 470.10L477.56 468.97M482.57 467.08L485.20 466.26M490.63 466.41L493.26 465.60M498.08 463.01L500.83 463.02M505.59 462.88L507.92 461.42M512.12 459.61L514.47 458.19M519.24 457.76L521.95 457.30M525.71 454.29L528.19 453.10M533.08 452.51L535.08 450.63M538.71 447.67L540.97 446.09M545.35 444.35L547.80 443.09M551.07 438.93L552.77 436.77M557.95 432.89L559.88 430.92M563.76 425.79L565.40 423.57M569.17 418.37L570.66 416.06M572.92 410.01L574.15 407.55M576.74 401.64L577.45 398.99M579.16 392.78L579.99 390.16M581.61 383.94L582.33 381.29M582.73 374.85L583.05 372.12M583.67 365.71L583.88 362.97M583.61 356.53L583.90 353.79M584.37 347.36L584.24 344.62M584.20 338.18L584.12 335.43M584.51 329.01L584.69 326.26M584.40 319.83L584.41 317.08M584.86 310.66L584.78 307.91M584.63 301.48L584.54 298.73M584.88 292.30L585.04 289.55M584.80 283.12L584.70 280.37M585.08 273.95L585.25 271.20M584.82 264.76L585.04 262.02M585.24 255.59L585.48 252.85M585.19 246.41L585.13 243.66M585.56 237.24L585.66 234.49M585.44 228.06L585.29 225.31M585.80 218.89L585.82 216.14M585.61 209.71L585.52 206.96M585.94 200.53L585.99 197.78M585.65 191.35L585.85 188.61M586.16 182.18L586.15 179.43M585.89 173.00L585.94 170.25M586.28 163.82L586.44 161.08M586.18 154.64L586.09 151.89M586.51 145.47L586.66 142.72M586.26 136.28L586.52 133.55M586.84 127.16L586.85 124.41M586.70 118.03L586.66 115.28M587.12 108.91L587.15 106.16M586.98 99.77L586.92 97.02M587.42 90.65L587.37 87.90M587.26 81.52L587.22 78.77M587.65 72.39L587.74 69.64M587.45 63.26L587.52 60.51M587.91 54.13L588.02 51.38M587.73 45.00L587.82 42.25M582.99 364.69L581.55 367.04M579.23 372.96L578.76 375.67M578.19 382.02L577.70 384.72M577.97 391.16L578.08 393.90M573.43 398.89L572.66 401.53M571.55 407.94L570.38 410.43M566.71 415.71L565.01 417.87M562.42 423.75L561.18 426.20M557.18 431.18L555.36 433.24" stroke="#00a000" stroke-width="1.65" stroke-linecap="butt"/>
<path d="M589.33 45.86L589.23 48.61M589.71 54.99L589.65 57.74M589.48 64.12L589.52 66.87M589.92 73.25L590.18 75.99M589.93 82.38L590.01 85.13M590.58 91.38L590.53 94.13M590.36 100.40L590.63 103.14M591.30 109.39L591.08 112.13M589.83 115.72L590.10 118.46M592.51 121.40L593.86 123.79M591.44 127.51L591.48 130.26M595.82 131.83L596.60 134.47M594.38 138.41L596.02 140.62M599.72 142.82L599.74 145.57M597.74 149.21L598.58 151.83M602.26 153.72L603.31 156.26M601.93 160.12L603.17 162.57M607.41 163.77L607.98 166.46M607.20 170.53L609.05 172.57M612.85 173.69L614.81 175.62M613.67 180.05L615.53 182.07M619.42 182.99L621.27 185.03M620.66 189.13L621.73 191.67M626.48 192.19L627.09 194.88M627.15 198.58L628.18 201.13M631.90 202.19L633.67 204.29M635.02 207.79L636.74 209.94M639.63 213.08L641.57 215.03M644.04 218.53L645.78 220.66M648.98 223.50L650.87 225.50M653.80 228.59L655.79 230.49M659.22 233.04L661.37 234.75M664.41 237.77L666.64 239.38M670.25 241.68L672.30 243.51M675.49 246.34L677.65 248.05M681.12 250.53L683.36 252.12M686.47 255.06L688.69 256.69M692.33 258.92L694.59 260.49M697.89 263.20L700.20 264.68M703.87 266.87L706.21 268.31M709.59 270.93L711.93 272.37M715.74 274.30L718.03 275.82M721.64 278.27L724.00 279.68M727.94 281.56L730.25 283.06M733.89 285.45L736.23 286.90M740.25 288.65L742.53 290.18" stroke="#00a000" stroke-width="1.65" stroke-linecap="butt"/>
</g>
<path d="M116.80 45.40H745.60V564.40H116.80ZM148.24 564.40v-5.20M148.24 45.40v5.20M179.68 564.40v-10.40M179.68 45.40v10.40M211.12 564.40v-5.20M211.12 45.40v5.20M242.56 564.40v-5.20M242.56 45.40v5.20M274.00 564.40v-5.20M274.00 45.40v5.20M305.44 564.40v-10.40M305.44 45.40v10.40M336.88 564.40v-5.20M336.88 45.40v5.20M368.32 564.40v-5.20M368.32 45.40v5.20M399.76 564.40v-5.20M399.76 45.40v5.20M431.20 564.40v-10.40M431.20 45.40v10.40M462.64 564.40v-5.20M462.64 45.40v5.20M494.08 564.40v-5.20M494.08 45.40v5.20M525.52 564.40v-5.20M525.52 45.40v5.20M556.96 564.40v-10.40M556.96 45.40v10.40M588.40 564.40v-5.20M588.40 45.40v5.20M619.84 564.40v-5.20M619.84 45.40v5.20M651.28 564.40v-5.20M651.28 45.40v5.20M682.72 564.40v-10.40M682.72 45.40v10.40M714.16 564.40v-5.20M714.16 45.40v5.20M116.80 542.77h6.30M745.60 542.77h-6.30M116.80 521.15h6.30M745.60 521.15h-6.30M116.80 499.52h6.30M745.60 499.52h-6.30M116.80 477.90h12.60M745.60 477.90h-12.60M116.80 456.27h6.30M745.60 456.27h-6.30M116.80 434.65h6.30M745.60 434.65h-6.30M116.80 413.02h6.30M745.60 413.02h-6.30M116.80 391.40h12.60M745.60 391.40h-12.60M116.80 369.77h6.30M745.60 369.77h-6.30M116.80 348.15h6.30M745.60 348.15h-6.30M116.80 326.52h6.30M745.60 326.52h-6.30M116.80 304.90h12.60M745.60 304.90h-12.60M116.80 283.27h6.30M745.60 283.27h-6.30M116.80 261.65h6.30M745.60 261.65h-6.30M116.80 240.02h6.30M745.60 240.02h-6.30M116.80 218.40h12.60M745.60 218.40h-12.60M116.80 196.77h6.30M745.60 196.77h-6.30M116.80 175.15h6.30M745.60 175.15h-6.30M116.80 153.52h6.30M745.60 153.52h-6.30M116.80 131.90h12.60M745.60 131.90h-12.60M116.80 110.27h6.30M745.60 110.27h-6.30M116.80 88.65h6.30M745.60 88.65h-6.30M116.80 67.02h6.30M745.60 67.02h-6.30" fill="none" stroke="#303030" stroke-width="1.1" stroke-linecap="butt" stroke-linejoin="miter"/>
<path d="M168.76 583.12L166.42 583.90L164.86 585.46L163.30 587.80L162.52 590.14L161.74 593.26L161.74 595.60L162.52 597.94L163.30 598.72L164.86 599.50L166.42 599.50L168.76 598.72L170.32 597.16L171.88 594.82L172.66 592.48L173.44 589.36L173.44 587.02L172.66 584.68L171.88 583.90L170.32 583.12L168.76 583.12M168.76 583.12L167.20 583.90L165.64 585.46L164.08 587.80L163.30 590.14L162.52 593.26L162.52 595.60L163.30 597.94L164.86 599.50M166.42 599.50L167.98 598.72L169.54 597.16L171.10 594.82L171.88 592.48L172.66 589.36L172.66 587.02L171.88 584.68L170.32 583.12M177.89 597.94L177.11 598.72L177.89 599.50L178.67 598.72L177.89 597.94M196.84 585.46L196.06 586.24L196.84 587.02L197.62 586.24L197.62 585.46L196.84 583.90L195.28 583.12L192.94 583.12L190.60 583.90L189.04 585.46L187.48 587.80L186.70 590.14L185.92 593.26L185.92 596.38L186.70 597.94L187.48 598.72L189.04 599.50L191.38 599.50L193.72 598.72L195.28 597.16L196.06 595.60L196.06 593.26L195.28 591.70L194.50 590.92L192.94 590.14L190.60 590.14L189.04 590.92L187.48 592.48L186.70 594.04M192.94 583.12L191.38 583.90L189.82 585.46L188.26 587.80L187.48 590.14L186.70 593.26L186.70 597.16L187.48 598.72M191.38 599.50L192.94 598.72L194.50 597.16L195.28 595.60L195.28 592.48L194.50 590.92M294.52 583.12L292.18 583.90L290.62 585.46L289.06 587.80L288.28 590.14L287.50 593.26L287.50 595.60L288.28 597.94L289.06 598.72L290.62 599.50L292.18 599.50L294.52 598.72L296.08 597.16L297.64 594.82L298.42 592.48L299.20 589.36L299.20 587.02L298.42 584.68L297.64 583.90L296.08 583.12L294.52 583.12M294.52 583.12L292.96 583.90L291.40 585.46L289.84 587.80L289.06 590.14L288.28 593.26L288.28 595.60L289.06 597.94L290.62 599.50M292.18 599.50L293.74 598.72L295.30 597.16L296.86 594.82L297.64 592.48L298.42 589.36L298.42 587.02L297.64 584.68L296.08 583.12M303.65 597.94L302.87 598.72L303.65 599.50L304.43 598.72L303.65 597.94M317.92 583.12L315.58 583.90L314.80 584.68L314.02 586.24L314.02 588.58L314.80 590.14L316.36 590.92L318.70 590.92L321.82 590.14L322.60 589.36L323.38 587.80L323.38 585.46L322.60 583.90L320.26 583.12L317.92 583.12M317.92 583.12L316.36 583.90L315.58 584.68L314.80 586.24L314.80 588.58L315.58 590.14L316.36 590.92M318.70 590.92L321.04 590.14L321.82 589.36L322.60 587.80L322.60 585.46L321.82 583.90L320.26 583.12M316.36 590.92L313.24 591.70L311.68 593.26L310.90 594.82L310.90 597.16L311.68 598.72L314.02 599.50L317.14 599.50L320.26 598.72L321.04 597.94L321.82 596.38L321.82 594.04L321.04 592.48L320.26 591.70L318.70 590.92M316.36 590.92L314.02 591.70L312.46 593.26L311.68 594.82L311.68 597.16L312.46 598.72L314.02 599.50M317.14 599.50L319.48 598.72L320.26 597.94L321.04 596.38L321.04 593.26L320.26 591.70M420.28 586.24L416.38 599.50M421.84 583.12L417.16 599.50M421.84 583.12L419.50 585.46L417.16 587.02L415.60 587.80M421.06 585.46L417.94 587.02L415.60 587.80M429.41 597.94L428.63 598.72L429.41 599.50L430.19 598.72L429.41 597.94M444.46 583.12L442.12 583.90L440.56 585.46L439.00 587.80L438.22 590.14L437.44 593.26L437.44 595.60L438.22 597.94L439.00 598.72L440.56 599.50L442.12 599.50L444.46 598.72L446.02 597.16L447.58 594.82L448.36 592.48L449.14 589.36L449.14 587.02L448.36 584.68L447.58 583.90L446.02 583.12L444.46 583.12M444.46 583.12L442.90 583.90L441.34 585.46L439.78 587.80L439.00 590.14L438.22 593.26L438.22 595.60L439.00 597.94L440.56 599.50M442.12 599.50L443.68 598.72L445.24 597.16L446.80 594.82L447.58 592.48L448.36 589.36L448.36 587.02L447.58 584.68L446.02 583.12M546.04 586.24L542.14 599.50M547.60 583.12L542.92 599.50M547.60 583.12L545.26 585.46L542.92 587.02L541.36 587.80M546.82 585.46L543.70 587.02L541.36 587.80M555.17 597.94L554.39 598.72L555.17 599.50L555.95 598.72L555.17 597.94M566.32 586.24L567.10 587.02L566.32 587.80L565.54 587.02L565.54 586.24L566.32 584.68L567.10 583.90L569.44 583.12L571.78 583.12L574.12 583.90L574.90 585.46L574.90 587.02L574.12 588.58L572.56 590.14L570.22 591.70L567.10 593.26L564.76 594.82L563.20 596.38L561.64 599.50M571.78 583.12L573.34 583.90L574.12 585.46L574.12 587.02L573.34 588.58L571.78 590.14L567.10 593.26M562.42 597.94L563.20 597.16L564.76 597.16L568.66 598.72L571.00 598.72L572.56 597.94L573.34 596.38M564.76 597.16L568.66 599.50L571.00 599.50L572.56 598.72L573.34 596.38M671.80 586.24L667.90 599.50M673.36 583.12L668.68 599.50M673.36 583.12L671.02 585.46L668.68 587.02L667.12 587.80M672.58 585.46L669.46 587.02L667.12 587.80M680.93 597.94L680.15 598.72L680.93 599.50L681.71 598.72L680.93 597.94M699.10 583.90L694.42 599.50M699.88 583.12L695.20 599.50M699.88 583.12L688.18 594.82L700.66 594.82M78.40 470.72L76.06 471.50L74.50 473.06L72.94 475.40L72.16 477.74L71.38 480.86L71.38 483.20L72.16 485.54L72.94 486.32L74.50 487.10L76.06 487.10L78.40 486.32L79.96 484.76L81.52 482.42L82.30 480.08L83.08 476.96L83.08 474.62L82.30 472.28L81.52 471.50L79.96 470.72L78.40 470.72M78.40 470.72L76.84 471.50L75.28 473.06L73.72 475.40L72.94 477.74L72.16 480.86L72.16 483.20L72.94 485.54L74.50 487.10M76.06 487.10L77.62 486.32L79.18 484.76L80.74 482.42L81.52 480.08L82.30 476.96L82.30 474.62L81.52 472.28L79.96 470.72M87.53 485.54L86.75 486.32L87.53 487.10L88.31 486.32L87.53 485.54M98.68 473.84L99.46 474.62L98.68 475.40L97.90 474.62L97.90 473.84L98.68 472.28L99.46 471.50L101.80 470.72L104.14 470.72L106.48 471.50L107.26 473.06L107.26 474.62L106.48 476.18L104.92 477.74L102.58 479.30L99.46 480.86L97.12 482.42L95.56 483.98L94.00 487.10M104.14 470.72L105.70 471.50L106.48 473.06L106.48 474.62L105.70 476.18L104.14 477.74L99.46 480.86M94.78 485.54L95.56 484.76L97.12 484.76L101.02 486.32L103.36 486.32L104.92 485.54L105.70 483.98M97.12 484.76L101.02 487.10L103.36 487.10L104.92 486.32L105.70 483.98M78.40 384.22L76.06 385.00L74.50 386.56L72.94 388.90L72.16 391.24L71.38 394.36L71.38 396.70L72.16 399.04L72.94 399.82L74.50 400.60L76.06 400.60L78.40 399.82L79.96 398.26L81.52 395.92L82.30 393.58L83.08 390.46L83.08 388.12L82.30 385.78L81.52 385.00L79.96 384.22L78.40 384.22M78.40 384.22L76.84 385.00L75.28 386.56L73.72 388.90L72.94 391.24L72.16 394.36L72.16 396.70L72.94 399.04L74.50 400.60M76.06 400.60L77.62 399.82L79.18 398.26L80.74 395.92L81.52 393.58L82.30 390.46L82.30 388.12L81.52 385.78L79.96 384.22M87.53 399.04L86.75 399.82L87.53 400.60L88.31 399.82L87.53 399.04M105.70 385.00L101.02 400.60M106.48 384.22L101.80 400.60M106.48 384.22L94.78 395.92L107.26 395.92M78.40 297.72L76.06 298.50L74.50 300.06L72.94 302.40L72.16 304.74L71.38 307.86L71.38 310.20L72.16 312.54L72.94 313.32L74.50 314.10L76.06 314.10L78.40 313.32L79.96 311.76L81.52 309.42L82.30 307.08L83.08 303.96L83.08 301.62L82.30 299.28L81.52 298.50L79.96 297.72L78.40 297.72M78.40 297.72L76.84 298.50L75.28 300.06L73.72 302.40L72.94 304.74L72.16 307.86L72.16 310.20L72.94 312.54L74.50 314.10M76.06 314.10L77.62 313.32L79.18 311.76L80.74 309.42L81.52 307.08L82.30 303.96L82.30 301.62L81.52 299.28L79.96 297.72M87.53 312.54L86.75 313.32L87.53 314.10L88.31 313.32L87.53 312.54M106.48 300.06L105.70 300.84L106.48 301.62L107.26 300.84L107.26 300.06L106.48 298.50L104.92 297.72L102.58 297.72L100.24 298.50L98.68 300.06L97.12 302.40L96.34 304.74L95.56 307.86L95.56 310.98L96.34 312.54L97.12 313.32L98.68 314.10L101.02 314.10L103.36 313.32L104.92 311.76L105.70 310.20L105.70 307.86L104.92 306.30L104.14 305.52L102.58 304.74L100.24 304.74L98.68 305.52L97.12 307.08L96.34 308.64M102.58 297.72L101.02 298.50L99.46 300.06L97.90 302.40L97.12 304.74L96.34 307.86L96.34 311.76L97.12 313.32M101.02 314.10L102.58 313.32L104.14 311.76L104.92 310.20L104.92 307.08L104.14 305.52M78.40 211.22L76.06 212.00L74.50 213.56L72.94 215.90L72.16 218.24L71.38 221.36L71.38 223.70L72.16 226.04L72.94 226.82L74.50 227.60L76.06 227.60L78.40 226.82L79.96 225.26L81.52 222.92L82.30 220.58L83.08 217.46L83.08 215.12L82.30 212.78L81.52 212.00L79.96 211.22L78.40 211.22M78.40 211.22L76.84 212.00L75.28 213.56L73.72 215.90L72.94 218.24L72.16 221.36L72.16 223.70L72.94 226.04L74.50 227.60M76.06 227.60L77.62 226.82L79.18 225.26L80.74 222.92L81.52 220.58L82.30 217.46L82.30 215.12L81.52 212.78L79.96 211.22M87.53 226.04L86.75 226.82L87.53 227.60L88.31 226.82L87.53 226.04M101.80 211.22L99.46 212.00L98.68 212.78L97.90 214.34L97.90 216.68L98.68 218.24L100.24 219.02L102.58 219.02L105.70 218.24L106.48 217.46L107.26 215.90L107.26 213.56L106.48 212.00L104.14 211.22L101.80 211.22M101.80 211.22L100.24 212.00L99.46 212.78L98.68 214.34L98.68 216.68L99.46 218.24L100.24 219.02M102.58 219.02L104.92 218.24L105.70 217.46L106.48 215.90L106.48 213.56L105.70 212.00L104.14 211.22M100.24 219.02L97.12 219.80L95.56 221.36L94.78 222.92L94.78 225.26L95.56 226.82L97.90 227.60L101.02 227.60L104.14 226.82L104.92 226.04L105.70 224.48L105.70 222.14L104.92 220.58L104.14 219.80L102.58 219.02M100.24 219.02L97.90 219.80L96.34 221.36L95.56 222.92L95.56 225.26L96.34 226.82L97.90 227.60M101.02 227.60L103.36 226.82L104.14 226.04L104.92 224.48L104.92 221.36L104.14 219.80M78.40 127.84L74.50 141.10M79.96 124.72L75.28 141.10M79.96 124.72L77.62 127.06L75.28 128.62L73.72 129.40M79.18 127.06L76.06 128.62L73.72 129.40M87.53 139.54L86.75 140.32L87.53 141.10L88.31 140.32L87.53 139.54M102.58 124.72L100.24 125.50L98.68 127.06L97.12 129.40L96.34 131.74L95.56 134.86L95.56 137.20L96.34 139.54L97.12 140.32L98.68 141.10L100.24 141.10L102.58 140.32L104.14 138.76L105.70 136.42L106.48 134.08L107.26 130.96L107.26 128.62L106.48 126.28L105.70 125.50L104.14 124.72L102.58 124.72M102.58 124.72L101.02 125.50L99.46 127.06L97.90 129.40L97.12 131.74L96.34 134.86L96.34 137.20L97.12 139.54L98.68 141.10M100.24 141.10L101.80 140.32L103.36 138.76L104.92 136.42L105.70 134.08L106.48 130.96L106.48 128.62L105.70 126.28L104.14 124.72M78.40 48.64L74.50 61.90M79.96 45.52L75.28 61.90M79.96 45.52L77.62 47.86L75.28 49.42L73.72 50.20M79.18 47.86L76.06 49.42L73.72 50.20M87.53 60.34L86.75 61.12L87.53 61.90L88.31 61.12L87.53 60.34M98.68 48.64L99.46 49.42L98.68 50.20L97.90 49.42L97.90 48.64L98.68 47.08L99.46 46.30L101.80 45.52L104.14 45.52L106.48 46.30L107.26 47.86L107.26 49.42L106.48 50.98L104.92 52.54L102.58 54.10L99.46 55.66L97.12 57.22L95.56 58.78L94.00 61.90M104.14 45.52L105.70 46.30L106.48 47.86L106.48 49.42L105.70 50.98L104.14 52.54L99.46 55.66M94.78 60.34L95.56 59.56L97.12 59.56L101.02 61.12L103.36 61.12L104.92 60.34L105.70 58.78M97.12 59.56L101.02 61.90L103.36 61.90L104.92 61.12L105.70 58.78M78.40 548.62L76.06 549.40L74.50 550.96L72.94 553.30L72.16 555.64L71.38 558.76L71.38 561.10L72.16 563.44L72.94 564.22L74.50 565.00L76.06 565.00L78.40 564.22L79.96 562.66L81.52 560.32L82.30 557.98L83.08 554.86L83.08 552.52L82.30 550.18L81.52 549.40L79.96 548.62L78.40 548.62M78.40 548.62L76.84 549.40L75.28 550.96L73.72 553.30L72.94 555.64L72.16 558.76L72.16 561.10L72.94 563.44L74.50 565.00M76.06 565.00L77.62 564.22L79.18 562.66L80.74 560.32L81.52 557.98L82.30 554.86L82.30 552.52L81.52 550.18L79.96 548.62M87.53 563.44L86.75 564.22L87.53 565.00L88.31 564.22L87.53 563.44M102.58 548.62L100.24 549.40L98.68 550.96L97.12 553.30L96.34 555.64L95.56 558.76L95.56 561.10L96.34 563.44L97.12 564.22L98.68 565.00L100.24 565.00L102.58 564.22L104.14 562.66L105.70 560.32L106.48 557.98L107.26 554.86L107.26 552.52L106.48 550.18L105.70 549.40L104.14 548.62L102.58 548.62M102.58 548.62L101.02 549.40L99.46 550.96L97.90 553.30L97.12 555.64L96.34 558.76L96.34 561.10L97.12 563.44L98.68 565.00M100.24 565.00L101.80 564.22L103.36 562.66L104.92 560.32L105.70 557.98L106.48 554.86L106.48 552.52L105.70 550.18L104.14 548.62M407.71 621.82L408.49 620.26L410.05 618.70L412.39 618.70L413.17 619.48L413.17 621.04L412.39 624.16L410.83 629.62M411.61 618.70L412.39 619.48L412.39 621.04L411.61 624.16L410.05 629.62M412.39 624.16L413.95 621.04L415.51 619.48L417.07 618.70L418.63 618.70L419.41 619.48L419.41 620.26L418.63 621.04L417.85 620.26L418.63 619.48M438.91 610.12L418.63 635.08M444.37 613.24L439.69 629.62M445.15 613.24L440.47 629.62M442.03 613.24L450.61 613.24L452.95 614.02L453.73 615.58L453.73 617.14L452.95 619.48L452.17 620.26L449.83 621.04L442.81 621.04M450.61 613.24L452.17 614.02L452.95 615.58L452.95 617.14L452.17 619.48L451.39 620.26L449.83 621.04M446.71 621.04L448.27 621.82L449.05 622.60L449.83 628.84L450.61 629.62L452.17 629.62L452.95 628.06L452.95 627.28M449.05 622.60L450.61 628.06L451.39 628.84L452.17 628.84L452.95 628.06M437.35 629.62L442.81 629.62M211.95 124.20L212.71 122.69L214.22 121.17L216.48 121.17L217.24 121.93L217.24 123.44L216.48 126.46L214.97 131.75M215.73 121.17L216.48 121.93L216.48 123.44L215.73 126.46L214.22 131.75M216.48 126.46L217.99 123.44L219.50 121.93L221.01 121.17L222.52 121.17L224.03 121.93L224.79 122.69L224.79 124.20L223.28 128.72L223.28 130.99L224.03 131.75M222.52 121.17L224.03 122.69L224.03 124.20L222.52 128.72L222.52 130.99L223.28 131.75L225.54 131.75L227.05 130.24L227.81 128.72M231.58 122.69L245.17 122.69M231.58 127.22L245.17 127.22M261.03 121.17L260.27 122.69L258.76 124.20L257.25 124.95L254.99 124.95L253.48 124.20L252.72 123.44L251.97 121.93L251.97 119.67L252.72 118.16L254.23 116.65L256.50 115.89L258.76 115.89L260.27 116.65L261.03 117.40L261.78 118.91L261.78 121.93L261.03 124.95L260.27 127.22L258.76 129.48L257.25 130.99L254.99 131.75L252.72 131.75L251.21 130.99L250.46 129.48L250.46 128.72L251.21 127.97L251.97 128.72L251.21 129.48M253.48 124.20L252.72 122.69L252.72 119.67L253.48 118.16L254.99 116.65L256.50 115.89M260.27 116.65L261.03 118.16L261.03 121.93L260.27 124.95L259.52 127.22L258.01 129.48L256.50 130.99L254.99 131.75M444.56 124.20L445.31 122.69L446.82 121.17L449.09 121.17L449.84 121.93L449.84 123.44L449.09 126.46L447.57 131.75M448.33 121.17L449.09 121.93L449.09 123.44L448.33 126.46L446.82 131.75M449.09 126.46L450.60 123.44L452.11 121.93L453.62 121.17L455.12 121.17L456.63 121.93L457.39 122.69L457.39 124.20L455.88 128.72L455.88 130.99L456.63 131.75M455.12 121.17L456.63 122.69L456.63 124.20L455.12 128.72L455.12 130.99L455.88 131.75L458.15 131.75L459.66 130.24L460.41 128.72M464.19 122.69L477.78 122.69M464.19 127.22L477.78 127.22M489.86 118.91L486.08 131.75M491.37 115.89L486.84 131.75M491.37 115.89L489.10 118.16L486.84 119.67L485.32 120.42M490.61 118.16L487.59 119.67L485.32 120.42M501.18 115.89L499.67 120.42M511.00 115.89L510.24 118.16L508.73 120.42L504.96 124.95L503.44 127.22L502.69 128.72L501.94 131.75M508.73 120.42L504.20 124.95L502.69 127.22L501.94 128.72L501.18 131.75M500.43 118.16L502.69 115.89L504.20 115.89L507.98 118.16M501.18 117.40L502.69 116.65L504.20 116.65L507.98 118.16L509.49 118.16L510.24 117.40L511.00 115.89M620.96 124.20L621.71 122.69L623.22 121.17L625.49 121.17L626.24 121.93L626.24 123.44L625.49 126.46L623.98 131.75M624.73 121.17L625.49 121.93L625.49 123.44L624.73 126.46L623.22 131.75M625.49 126.46L627.00 123.44L628.50 121.93L630.02 121.17L631.53 121.17L633.04 121.93L633.79 122.69L633.79 124.20L632.28 128.72L632.28 130.99L633.04 131.75M631.53 121.17L633.04 122.69L633.04 124.20L631.53 128.72L631.53 130.99L632.28 131.75L634.55 131.75L636.06 130.24L636.81 128.72M640.59 122.69L654.18 122.69M640.59 127.22L654.18 127.22M662.48 118.91L663.24 119.67L662.48 120.42L661.73 119.67L661.73 118.91L662.48 117.40L663.24 116.65L665.50 115.89L667.77 115.89L670.03 116.65L670.79 118.16L670.79 119.67L670.03 121.17L668.52 122.69L666.25 124.20L663.24 125.70L660.97 127.22L659.46 128.72L657.95 131.75M667.77 115.89L669.28 116.65L670.03 118.16L670.03 119.67L669.28 121.17L667.77 122.69L663.24 125.70M658.71 130.24L659.46 129.48L660.97 129.48L664.75 130.99L667.01 130.99L668.52 130.24L669.28 128.72M660.97 129.48L664.75 131.75L667.01 131.75L668.52 130.99L669.28 128.72M685.13 116.65L680.60 131.75M685.88 115.89L681.36 131.75M685.88 115.89L674.56 127.22L686.64 127.22M30.84 325.95L52.68 330.63M30.84 325.17L52.68 331.41M36.30 329.07L37.08 332.19L38.64 333.75L40.98 334.53L43.32 334.53L44.88 333.75L46.44 332.19L47.22 329.85L47.22 327.51L46.44 324.39L44.88 322.83L42.54 322.05L40.20 322.05L38.64 322.83L37.08 324.39L36.30 326.73L36.30 329.07M36.30 329.07L37.08 331.41L38.64 332.97L40.98 333.75L43.32 333.75L44.88 332.97L46.44 331.41L47.22 329.85M47.22 327.51L46.44 325.17L44.88 323.61L42.54 322.83L40.20 322.83L38.64 323.61L37.08 325.17L36.30 326.73M46.60 316.65L52.06 316.65M48.16 316.65L46.99 315.48L46.60 314.70L46.60 313.53L46.99 312.75L48.16 312.36L52.06 312.36M27.72 302.22L29.28 303.78L31.62 305.34L34.74 306.90L38.64 307.68L41.76 307.68L45.66 306.90L48.78 305.34L51.12 303.78L52.68 302.22M29.28 303.78L32.40 305.34L34.74 306.12L38.64 306.90L41.76 306.90L45.66 306.12L48.00 305.34L51.12 303.78M39.42 299.10L37.86 298.32L36.30 296.76L36.30 294.42L37.08 293.64L38.64 293.64L41.76 294.42L47.22 295.98M36.30 295.20L37.08 294.42L38.64 294.42L41.76 295.20L47.22 296.76M41.76 294.42L38.64 292.86L37.08 291.30L36.30 289.74L36.30 288.18L37.08 287.40L37.86 287.40L38.64 288.18L37.86 288.96L37.08 288.18M27.72 282.41L29.28 280.85L31.62 279.29L34.74 277.73L38.64 276.95L41.76 276.95L45.66 277.73L48.78 279.29L51.12 280.85L52.68 282.41M29.28 280.85L32.40 279.29L34.74 278.51L38.64 277.73L41.76 277.73L45.66 278.51L48.00 279.29L51.12 280.85" fill="none" stroke="#101010" stroke-width="1.2" stroke-linecap="round" stroke-linejoin="round"/>
</svg></body></html>
